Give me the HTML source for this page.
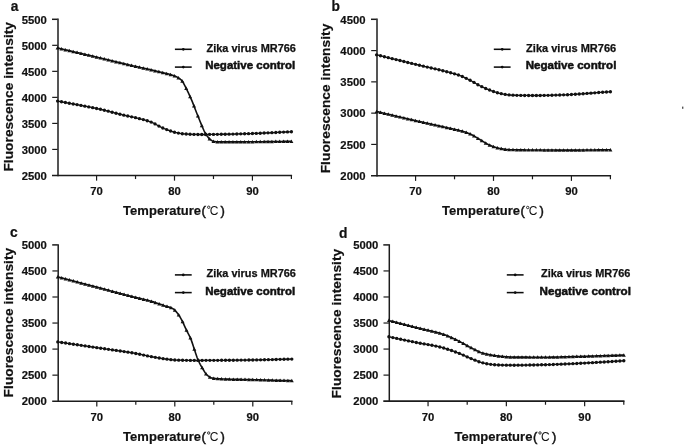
<!DOCTYPE html>
<html><head><meta charset="utf-8"><title>Melting curves</title>
<style>
html,body{margin:0;padding:0;background:#fff;}
body{width:685px;height:445px;overflow:hidden;font-family:"Liberation Sans",sans-serif;}
svg{display:block;will-change:transform}
.t{font:bold 11.3px "Liberation Sans",sans-serif;fill:#111;stroke:#111;stroke-width:0.2px}
.l{font:bold 13px "Liberation Sans",sans-serif;fill:#111;stroke:#111;stroke-width:0.2px}
.pr{font:normal 13px "Liberation Sans",sans-serif;fill:#111;stroke:#111;stroke-width:0.5px}
.yl{font:bold 13.7px "Liberation Sans",sans-serif;fill:#111;stroke:#111;stroke-width:0.2px}
.p{font:bold 13.8px "Liberation Sans",sans-serif;fill:#111;stroke:#111;stroke-width:0.2px}
.g1{font:bold 11px "Liberation Sans",sans-serif;fill:#111;stroke:#111;stroke-width:0.25px}
.g2{font:bold 10.2px "Liberation Sans",sans-serif;fill:#111;stroke:#111;stroke-width:0.45px}
</style></head><body>
<svg width="685" height="445" viewBox="0 0 685 445">
<rect width="685" height="445" fill="#fff"/>
<line x1="58.0" y1="18.6" x2="58.0" y2="176.14999999999998" stroke="#1c1c1c" stroke-width="1.5"/>
<line x1="52.0" y1="175.45" x2="292.09999999999997" y2="175.45" stroke="#1c1c1c" stroke-width="1.6"/>
<line x1="52.0" y1="19.3" x2="57.6" y2="19.3" stroke="#1c1c1c" stroke-width="1.5"/>
<text x="46.8" y="23.50" text-anchor="end" class="t">5500</text>
<line x1="52.2" y1="45.32" x2="57.6" y2="45.32" stroke="#1a1a1a" stroke-width="1.2"/>
<text x="46.8" y="49.52" text-anchor="end" class="t">5000</text>
<line x1="52.2" y1="71.35" x2="57.6" y2="71.35" stroke="#1a1a1a" stroke-width="1.2"/>
<text x="46.8" y="75.55" text-anchor="end" class="t">4500</text>
<line x1="52.2" y1="97.37" x2="57.6" y2="97.37" stroke="#1a1a1a" stroke-width="1.2"/>
<text x="46.8" y="101.57" text-anchor="end" class="t">4000</text>
<line x1="52.2" y1="123.40" x2="57.6" y2="123.40" stroke="#1a1a1a" stroke-width="1.2"/>
<text x="46.8" y="127.60" text-anchor="end" class="t">3500</text>
<line x1="52.2" y1="149.42" x2="57.6" y2="149.42" stroke="#1a1a1a" stroke-width="1.2"/>
<text x="46.8" y="153.62" text-anchor="end" class="t">3000</text>
<text x="46.8" y="179.65" text-anchor="end" class="t">2500</text>
<line x1="96.57" y1="175.45" x2="96.57" y2="180.64999999999998" stroke="#1a1a1a" stroke-width="1.2"/>
<text x="96.57" y="195.15" text-anchor="middle" class="t">70</text>
<line x1="135.53" y1="175.45" x2="135.53" y2="179.04999999999998" stroke="#1a1a1a" stroke-width="1.2"/>
<line x1="174.50" y1="175.45" x2="174.50" y2="180.64999999999998" stroke="#1a1a1a" stroke-width="1.2"/>
<text x="174.50" y="195.15" text-anchor="middle" class="t">80</text>
<line x1="213.47" y1="175.45" x2="213.47" y2="179.04999999999998" stroke="#1a1a1a" stroke-width="1.2"/>
<line x1="252.43" y1="175.45" x2="252.43" y2="180.64999999999998" stroke="#1a1a1a" stroke-width="1.2"/>
<text x="252.43" y="195.15" text-anchor="middle" class="t">90</text>
<line x1="291.40" y1="175.45" x2="291.40" y2="179.04999999999998" stroke="#1a1a1a" stroke-width="1.2"/>
<text x="123.1" y="215.14999999999998" class="l" textLength="78" lengthAdjust="spacing">Temperature</text>
<text x="201.6" y="214.95" class="pr">(</text>
<circle cx="208.7" cy="207.24999999999997" r="1.2" fill="none" stroke="#111" stroke-width="0.85"/>
<text x="209.79999999999998" y="214.95" style="font:normal 12px 'Liberation Sans',sans-serif" fill="#111">C</text>
<text x="220.6" y="214.95" class="pr">)</text>
<text transform="translate(12.5,96.8) rotate(-90)" text-anchor="middle" class="yl" textLength="149.6" lengthAdjust="spacing">Fluorescence intensity</text>
<text x="10.7" y="11.3" class="p">a</text>
<line x1="174.9" y1="49.3" x2="191.70000000000002" y2="49.3" stroke="#0c0c0c" stroke-width="1.55"/>
<circle cx="183.3" cy="49.3" r="1.35" fill="#0c0c0c"/>
<text x="206.5" y="51.6" class="g1" textLength="89.4" lengthAdjust="spacingAndGlyphs">Zika virus MR766</text>
<line x1="174.9" y1="67.1" x2="191.70000000000002" y2="67.1" stroke="#0c0c0c" stroke-width="1.55"/>
<circle cx="183.3" cy="67.1" r="1.35" fill="#0c0c0c"/>
<text x="205.2" y="69.4" class="g2" textLength="90.0" lengthAdjust="spacingAndGlyphs">Negative control</text>
<path d="M57.60,47.95 L58.38,48.14 L59.16,48.32 L59.95,48.50 L60.73,48.69 L61.51,48.87 L62.29,49.05 L63.07,49.24 L63.86,49.42 L64.64,49.60 L65.42,49.79 L66.20,49.97 L66.98,50.15 L67.77,50.34 L68.55,50.52 L69.33,50.70 L70.11,50.88 L70.89,51.07 L71.67,51.25 L72.46,51.43 L73.24,51.62 L74.02,51.80 L74.80,51.98 L75.58,52.17 L76.37,52.35 L77.15,52.53 L77.93,52.72 L78.71,52.90 L79.49,53.08 L80.28,53.26 L81.06,53.45 L81.84,53.63 L82.62,53.81 L83.40,54.00 L84.19,54.18 L84.97,54.37 L85.75,54.55 L86.53,54.73 L87.31,54.92 L88.10,55.10 L88.88,55.28 L89.66,55.47 L90.44,55.65 L91.22,55.84 L92.01,56.02 L92.79,56.21 L93.57,56.39 L94.35,56.57 L95.13,56.76 L95.92,56.94 L96.70,57.13 L97.48,57.31 L98.26,57.50 L99.04,57.68 L99.82,57.87 L100.61,58.06 L101.39,58.24 L102.17,58.43 L102.95,58.62 L103.73,58.81 L104.52,58.99 L105.30,59.18 L106.08,59.37 L106.86,59.56 L107.64,59.75 L108.43,59.94 L109.21,60.13 L109.99,60.32 L110.77,60.51 L111.55,60.69 L112.34,60.88 L113.12,61.07 L113.90,61.26 L114.68,61.45 L115.46,61.64 L116.25,61.83 L117.03,62.02 L117.81,62.21 L118.59,62.39 L119.37,62.58 L120.16,62.77 L120.94,62.96 L121.72,63.15 L122.50,63.33 L123.28,63.52 L124.06,63.71 L124.85,63.89 L125.63,64.08 L126.41,64.27 L127.19,64.45 L127.97,64.64 L128.76,64.82 L129.54,65.00 L130.32,65.19 L131.10,65.37 L131.88,65.55 L132.67,65.73 L133.45,65.91 L134.23,66.09 L135.01,66.27 L135.79,66.45 L136.58,66.63 L137.36,66.81 L138.14,66.98 L138.92,67.15 L139.70,67.33 L140.49,67.50 L141.27,67.67 L142.05,67.84 L142.83,68.01 L143.61,68.18 L144.40,68.35 L145.18,68.52 L145.96,68.69 L146.74,68.86 L147.52,69.04 L148.31,69.21 L149.09,69.39 L149.87,69.57 L150.65,69.75 L151.43,69.93 L152.21,70.12 L153.00,70.30 L153.78,70.48 L154.56,70.67 L155.34,70.86 L156.12,71.05 L156.91,71.24 L157.69,71.43 L158.47,71.62 L159.25,71.81 L160.03,72.01 L160.82,72.20 L161.60,72.39 L162.38,72.58 L163.16,72.76 L163.94,72.94 L164.73,73.12 L165.51,73.30 L166.29,73.49 L167.07,73.68 L167.85,73.87 L168.64,74.07 L169.42,74.28 L170.20,74.50 L170.98,74.72 L171.76,74.96 L172.55,75.20 L173.33,75.46 L174.11,75.74 L174.89,76.04 L175.67,76.38 L176.45,76.75 L177.24,77.16 L178.02,77.61 L178.80,78.10 L179.58,78.63 L180.36,79.24 L181.15,79.93 L181.93,80.72 L182.71,81.73 L183.49,83.03 L184.27,84.52 L185.06,86.10 L185.84,87.68 L186.62,89.22 L187.40,90.80 L188.18,92.43 L188.97,94.10 L189.75,95.80 L190.53,97.55 L191.31,99.33 L192.09,101.17 L192.88,103.09 L193.66,105.09 L194.44,107.12 L195.22,109.18 L196.00,111.23 L196.79,113.24 L197.57,115.19 L198.35,117.09 L199.13,119.01 L199.91,120.97 L200.69,122.92 L201.48,124.85 L202.26,126.73 L203.04,128.54 L203.82,130.26 L204.60,131.84 L205.39,133.29 L206.17,134.56 L206.95,135.75 L207.73,136.85 L208.51,137.85 L209.30,138.70 L210.08,139.36 L210.86,139.92 L211.64,140.45 L212.42,140.90 L213.21,141.25 L213.99,141.47 L214.77,141.57 L215.55,141.66 L216.33,141.73 L217.12,141.79 L217.90,141.84 L218.68,141.88 L219.46,141.90 L220.24,141.90 L221.03,141.90 L221.81,141.90 L222.59,141.90 L223.37,141.90 L224.15,141.90 L224.94,141.90 L225.72,141.89 L226.50,141.89 L227.28,141.89 L228.06,141.89 L228.84,141.89 L229.63,141.89 L230.41,141.88 L231.19,141.88 L231.97,141.88 L232.75,141.88 L233.54,141.87 L234.32,141.87 L235.10,141.87 L235.88,141.87 L236.66,141.86 L237.45,141.86 L238.23,141.86 L239.01,141.85 L239.79,141.85 L240.57,141.85 L241.36,141.84 L242.14,141.84 L242.92,141.83 L243.70,141.83 L244.48,141.83 L245.27,141.82 L246.05,141.82 L246.83,141.82 L247.61,141.81 L248.39,141.81 L249.18,141.80 L249.96,141.80 L250.74,141.80 L251.52,141.79 L252.30,141.79 L253.08,141.78 L253.87,141.78 L254.65,141.77 L255.43,141.76 L256.21,141.76 L256.99,141.75 L257.78,141.74 L258.56,141.73 L259.34,141.73 L260.12,141.72 L260.90,141.71 L261.69,141.70 L262.47,141.69 L263.25,141.68 L264.03,141.67 L264.81,141.67 L265.60,141.66 L266.38,141.65 L267.16,141.64 L267.94,141.63 L268.72,141.62 L269.51,141.60 L270.29,141.59 L271.07,141.58 L271.85,141.57 L272.63,141.56 L273.42,141.55 L274.20,141.54 L274.98,141.53 L275.76,141.52 L276.54,141.51 L277.33,141.50 L278.11,141.48 L278.89,141.47 L279.67,141.46 L280.45,141.45 L281.23,141.44 L282.02,141.43 L282.80,141.42 L283.58,141.41 L284.36,141.40 L285.14,141.39 L285.93,141.38 L286.71,141.36 L287.49,141.35 L288.27,141.34 L289.05,141.33 L289.84,141.32 L290.62,141.31 L291.40,141.30" fill="none" stroke="#111" stroke-width="1.6" stroke-linejoin="round"/>
<path d="M55.60,49.55 L59.60,49.55 L57.60,46.05Z" fill="#111"/>
<path d="M59.50,50.47 L63.50,50.47 L61.50,46.97Z" fill="#111"/>
<path d="M63.39,51.38 L67.39,51.38 L65.39,47.88Z" fill="#111"/>
<path d="M67.29,52.29 L71.29,52.29 L69.29,48.79Z" fill="#111"/>
<path d="M71.19,53.20 L75.19,53.20 L73.19,49.70Z" fill="#111"/>
<path d="M75.08,54.12 L79.08,54.12 L77.08,50.62Z" fill="#111"/>
<path d="M78.98,55.03 L82.98,55.03 L80.98,51.53Z" fill="#111"/>
<path d="M82.88,55.94 L86.88,55.94 L84.88,52.44Z" fill="#111"/>
<path d="M86.77,56.86 L90.77,56.86 L88.77,53.36Z" fill="#111"/>
<path d="M90.67,57.78 L94.67,57.78 L92.67,54.28Z" fill="#111"/>
<path d="M94.57,58.70 L98.57,58.70 L96.57,55.20Z" fill="#111"/>
<path d="M98.46,59.62 L102.46,59.62 L100.46,56.12Z" fill="#111"/>
<path d="M102.36,60.56 L106.36,60.56 L104.36,57.06Z" fill="#111"/>
<path d="M106.26,61.50 L110.26,61.50 L108.26,58.00Z" fill="#111"/>
<path d="M110.15,62.44 L114.15,62.44 L112.15,58.94Z" fill="#111"/>
<path d="M114.05,63.38 L118.05,63.38 L116.05,59.88Z" fill="#111"/>
<path d="M117.95,64.32 L121.95,64.32 L119.95,60.82Z" fill="#111"/>
<path d="M121.84,65.25 L125.84,65.25 L123.84,61.75Z" fill="#111"/>
<path d="M125.74,66.18 L129.74,66.18 L127.74,62.68Z" fill="#111"/>
<path d="M129.64,67.09 L133.64,67.09 L131.64,63.59Z" fill="#111"/>
<path d="M133.53,67.99 L137.53,67.99 L135.53,64.49Z" fill="#111"/>
<path d="M137.43,68.87 L141.43,68.87 L139.43,65.37Z" fill="#111"/>
<path d="M141.33,69.72 L145.33,69.72 L143.33,66.22Z" fill="#111"/>
<path d="M145.22,70.57 L149.22,70.57 L147.22,67.07Z" fill="#111"/>
<path d="M149.12,71.46 L153.12,71.46 L151.12,67.96Z" fill="#111"/>
<path d="M153.02,72.38 L157.02,72.38 L155.02,68.88Z" fill="#111"/>
<path d="M156.91,73.33 L160.91,73.33 L158.91,69.83Z" fill="#111"/>
<path d="M160.81,74.28 L164.81,74.28 L162.81,70.78Z" fill="#111"/>
<path d="M164.71,75.19 L168.71,75.19 L166.71,71.69Z" fill="#111"/>
<path d="M168.60,76.21 L172.60,76.21 L170.60,72.71Z" fill="#111"/>
<path d="M172.50,77.49 L176.50,77.49 L174.50,73.99Z" fill="#111"/>
<path d="M176.40,79.44 L180.40,79.44 L178.40,75.94Z" fill="#111"/>
<path d="M180.29,82.75 L184.29,82.75 L182.29,79.25Z" fill="#111"/>
<path d="M184.19,89.97 L188.19,89.97 L186.19,86.47Z" fill="#111"/>
<path d="M188.09,98.16 L192.09,98.16 L190.09,94.66Z" fill="#111"/>
<path d="M191.98,107.53 L195.98,107.53 L193.98,104.03Z" fill="#111"/>
<path d="M195.88,117.55 L199.88,117.55 L197.88,114.05Z" fill="#111"/>
<path d="M199.78,127.18 L203.78,127.18 L201.78,123.68Z" fill="#111"/>
<path d="M203.67,135.37 L207.67,135.37 L205.67,131.87Z" fill="#111"/>
<path d="M207.57,140.55 L211.57,140.55 L209.57,137.05Z" fill="#111"/>
<path d="M211.47,142.94 L215.47,142.94 L213.47,139.44Z" fill="#111"/>
<path d="M215.36,143.41 L219.36,143.41 L217.36,139.91Z" fill="#111"/>
<path d="M219.26,143.50 L223.26,143.50 L221.26,140.00Z" fill="#111"/>
<path d="M223.16,143.50 L227.16,143.50 L225.16,140.00Z" fill="#111"/>
<path d="M227.05,143.49 L231.05,143.49 L229.05,139.99Z" fill="#111"/>
<path d="M230.95,143.48 L234.95,143.48 L232.95,139.98Z" fill="#111"/>
<path d="M234.85,143.46 L238.85,143.46 L236.85,139.96Z" fill="#111"/>
<path d="M238.74,143.45 L242.74,143.45 L240.74,139.95Z" fill="#111"/>
<path d="M242.64,143.43 L246.64,143.43 L244.64,139.93Z" fill="#111"/>
<path d="M246.54,143.41 L250.54,143.41 L248.54,139.91Z" fill="#111"/>
<path d="M250.43,143.39 L254.43,143.39 L252.43,139.89Z" fill="#111"/>
<path d="M254.33,143.36 L258.33,143.36 L256.33,139.86Z" fill="#111"/>
<path d="M258.23,143.32 L262.23,143.32 L260.23,139.82Z" fill="#111"/>
<path d="M262.12,143.27 L266.12,143.27 L264.12,139.77Z" fill="#111"/>
<path d="M266.02,143.22 L270.02,143.22 L268.02,139.72Z" fill="#111"/>
<path d="M269.92,143.17 L273.92,143.17 L271.92,139.67Z" fill="#111"/>
<path d="M273.81,143.12 L277.81,143.12 L275.81,139.62Z" fill="#111"/>
<path d="M277.71,143.06 L281.71,143.06 L279.71,139.56Z" fill="#111"/>
<path d="M281.61,143.01 L285.61,143.01 L283.61,139.51Z" fill="#111"/>
<path d="M285.50,142.95 L289.50,142.95 L287.50,139.45Z" fill="#111"/>
<path d="M289.40,142.90 L293.40,142.90 L291.40,139.40Z" fill="#111"/>
<path d="M57.60,101.06 L58.38,101.21 L59.16,101.36 L59.95,101.51 L60.73,101.66 L61.51,101.80 L62.29,101.95 L63.07,102.10 L63.86,102.24 L64.64,102.39 L65.42,102.53 L66.20,102.68 L66.98,102.82 L67.77,102.96 L68.55,103.11 L69.33,103.25 L70.11,103.39 L70.89,103.54 L71.67,103.68 L72.46,103.82 L73.24,103.96 L74.02,104.11 L74.80,104.25 L75.58,104.39 L76.37,104.54 L77.15,104.68 L77.93,104.83 L78.71,104.97 L79.49,105.11 L80.28,105.26 L81.06,105.41 L81.84,105.55 L82.62,105.70 L83.40,105.85 L84.19,105.99 L84.97,106.14 L85.75,106.29 L86.53,106.44 L87.31,106.59 L88.10,106.75 L88.88,106.90 L89.66,107.05 L90.44,107.21 L91.22,107.36 L92.01,107.52 L92.79,107.68 L93.57,107.84 L94.35,108.00 L95.13,108.16 L95.92,108.32 L96.70,108.49 L97.48,108.65 L98.26,108.82 L99.04,108.99 L99.82,109.16 L100.61,109.33 L101.39,109.51 L102.17,109.69 L102.95,109.87 L103.73,110.06 L104.52,110.25 L105.30,110.44 L106.08,110.64 L106.86,110.84 L107.64,111.03 L108.43,111.24 L109.21,111.44 L109.99,111.64 L110.77,111.84 L111.55,112.05 L112.34,112.26 L113.12,112.46 L113.90,112.67 L114.68,112.87 L115.46,113.08 L116.25,113.28 L117.03,113.49 L117.81,113.69 L118.59,113.89 L119.37,114.09 L120.16,114.29 L120.94,114.48 L121.72,114.68 L122.50,114.87 L123.28,115.05 L124.06,115.24 L124.85,115.42 L125.63,115.60 L126.41,115.77 L127.19,115.94 L127.97,116.10 L128.76,116.26 L129.54,116.42 L130.32,116.58 L131.10,116.74 L131.88,116.90 L132.67,117.06 L133.45,117.22 L134.23,117.39 L135.01,117.57 L135.79,117.75 L136.58,117.94 L137.36,118.13 L138.14,118.31 L138.92,118.50 L139.70,118.69 L140.49,118.89 L141.27,119.08 L142.05,119.28 L142.83,119.49 L143.61,119.70 L144.40,119.91 L145.18,120.13 L145.96,120.36 L146.74,120.59 L147.52,120.83 L148.31,121.08 L149.09,121.34 L149.87,121.61 L150.65,121.89 L151.43,122.20 L152.21,122.54 L153.00,122.90 L153.78,123.28 L154.56,123.68 L155.34,124.10 L156.12,124.52 L156.91,124.95 L157.69,125.39 L158.47,125.82 L159.25,126.25 L160.03,126.66 L160.82,127.07 L161.60,127.46 L162.38,127.83 L163.16,128.17 L163.94,128.50 L164.73,128.82 L165.51,129.14 L166.29,129.45 L167.07,129.75 L167.85,130.04 L168.64,130.33 L169.42,130.60 L170.20,130.87 L170.98,131.13 L171.76,131.40 L172.55,131.66 L173.33,131.90 L174.11,132.13 L174.89,132.34 L175.67,132.52 L176.45,132.68 L177.24,132.84 L178.02,132.99 L178.80,133.14 L179.58,133.29 L180.36,133.42 L181.15,133.55 L181.93,133.66 L182.71,133.76 L183.49,133.85 L184.27,133.93 L185.06,133.98 L185.84,134.03 L186.62,134.08 L187.40,134.12 L188.18,134.16 L188.97,134.20 L189.75,134.24 L190.53,134.27 L191.31,134.30 L192.09,134.34 L192.88,134.37 L193.66,134.39 L194.44,134.42 L195.22,134.44 L196.00,134.46 L196.79,134.47 L197.57,134.48 L198.35,134.49 L199.13,134.50 L199.91,134.50 L200.69,134.50 L201.48,134.50 L202.26,134.50 L203.04,134.49 L203.82,134.49 L204.60,134.48 L205.39,134.48 L206.17,134.47 L206.95,134.47 L207.73,134.46 L208.51,134.45 L209.30,134.44 L210.08,134.43 L210.86,134.42 L211.64,134.41 L212.42,134.40 L213.21,134.39 L213.99,134.38 L214.77,134.37 L215.55,134.36 L216.33,134.35 L217.12,134.34 L217.90,134.33 L218.68,134.32 L219.46,134.31 L220.24,134.30 L221.03,134.29 L221.81,134.27 L222.59,134.26 L223.37,134.25 L224.15,134.24 L224.94,134.22 L225.72,134.21 L226.50,134.19 L227.28,134.18 L228.06,134.16 L228.84,134.15 L229.63,134.13 L230.41,134.12 L231.19,134.10 L231.97,134.08 L232.75,134.06 L233.54,134.05 L234.32,134.03 L235.10,134.01 L235.88,133.99 L236.66,133.97 L237.45,133.95 L238.23,133.93 L239.01,133.91 L239.79,133.89 L240.57,133.87 L241.36,133.85 L242.14,133.83 L242.92,133.81 L243.70,133.78 L244.48,133.76 L245.27,133.74 L246.05,133.72 L246.83,133.69 L247.61,133.67 L248.39,133.65 L249.18,133.62 L249.96,133.60 L250.74,133.58 L251.52,133.55 L252.30,133.53 L253.08,133.50 L253.87,133.47 L254.65,133.44 L255.43,133.42 L256.21,133.39 L256.99,133.36 L257.78,133.32 L258.56,133.29 L259.34,133.26 L260.12,133.23 L260.90,133.19 L261.69,133.16 L262.47,133.13 L263.25,133.09 L264.03,133.06 L264.81,133.02 L265.60,132.98 L266.38,132.95 L267.16,132.91 L267.94,132.87 L268.72,132.84 L269.51,132.80 L270.29,132.76 L271.07,132.72 L271.85,132.68 L272.63,132.64 L273.42,132.60 L274.20,132.57 L274.98,132.53 L275.76,132.49 L276.54,132.45 L277.33,132.41 L278.11,132.37 L278.89,132.33 L279.67,132.29 L280.45,132.25 L281.23,132.21 L282.02,132.17 L282.80,132.13 L283.58,132.09 L284.36,132.05 L285.14,132.02 L285.93,131.98 L286.71,131.94 L287.49,131.90 L288.27,131.86 L289.05,131.83 L289.84,131.79 L290.62,131.75 L291.40,131.72" fill="none" stroke="#111" stroke-width="1.3" stroke-linejoin="round"/>
<circle cx="57.60" cy="101.06" r="1.68" fill="#111"/>
<circle cx="61.50" cy="101.80" r="1.68" fill="#111"/>
<circle cx="65.39" cy="102.53" r="1.68" fill="#111"/>
<circle cx="69.29" cy="103.24" r="1.68" fill="#111"/>
<circle cx="73.19" cy="103.95" r="1.68" fill="#111"/>
<circle cx="77.08" cy="104.67" r="1.68" fill="#111"/>
<circle cx="80.98" cy="105.39" r="1.68" fill="#111"/>
<circle cx="84.88" cy="106.13" r="1.68" fill="#111"/>
<circle cx="88.77" cy="106.88" r="1.68" fill="#111"/>
<circle cx="92.67" cy="107.65" r="1.68" fill="#111"/>
<circle cx="96.57" cy="108.46" r="1.68" fill="#111"/>
<circle cx="100.46" cy="109.30" r="1.68" fill="#111"/>
<circle cx="104.36" cy="110.21" r="1.68" fill="#111"/>
<circle cx="108.26" cy="111.19" r="1.68" fill="#111"/>
<circle cx="112.15" cy="112.21" r="1.68" fill="#111"/>
<circle cx="116.05" cy="113.23" r="1.68" fill="#111"/>
<circle cx="119.95" cy="114.23" r="1.68" fill="#111"/>
<circle cx="123.84" cy="115.19" r="1.68" fill="#111"/>
<circle cx="127.74" cy="116.05" r="1.68" fill="#111"/>
<circle cx="131.64" cy="116.84" r="1.68" fill="#111"/>
<circle cx="135.53" cy="117.69" r="1.68" fill="#111"/>
<circle cx="139.43" cy="118.63" r="1.68" fill="#111"/>
<circle cx="143.33" cy="119.62" r="1.68" fill="#111"/>
<circle cx="147.22" cy="120.74" r="1.68" fill="#111"/>
<circle cx="151.12" cy="122.07" r="1.68" fill="#111"/>
<circle cx="155.02" cy="123.92" r="1.68" fill="#111"/>
<circle cx="158.91" cy="126.06" r="1.68" fill="#111"/>
<circle cx="162.81" cy="128.02" r="1.68" fill="#111"/>
<circle cx="166.71" cy="129.61" r="1.68" fill="#111"/>
<circle cx="170.60" cy="131.01" r="1.68" fill="#111"/>
<circle cx="174.50" cy="132.24" r="1.68" fill="#111"/>
<circle cx="178.40" cy="133.07" r="1.68" fill="#111"/>
<circle cx="182.29" cy="133.71" r="1.68" fill="#111"/>
<circle cx="186.19" cy="134.05" r="1.68" fill="#111"/>
<circle cx="190.09" cy="134.25" r="1.68" fill="#111"/>
<circle cx="193.98" cy="134.40" r="1.68" fill="#111"/>
<circle cx="197.88" cy="134.49" r="1.68" fill="#111"/>
<circle cx="201.78" cy="134.50" r="1.68" fill="#111"/>
<circle cx="205.67" cy="134.48" r="1.68" fill="#111"/>
<circle cx="209.57" cy="134.44" r="1.68" fill="#111"/>
<circle cx="213.47" cy="134.39" r="1.68" fill="#111"/>
<circle cx="217.36" cy="134.34" r="1.68" fill="#111"/>
<circle cx="221.26" cy="134.28" r="1.68" fill="#111"/>
<circle cx="225.16" cy="134.22" r="1.68" fill="#111"/>
<circle cx="229.05" cy="134.14" r="1.68" fill="#111"/>
<circle cx="232.95" cy="134.06" r="1.68" fill="#111"/>
<circle cx="236.85" cy="133.97" r="1.68" fill="#111"/>
<circle cx="240.74" cy="133.87" r="1.68" fill="#111"/>
<circle cx="244.64" cy="133.76" r="1.68" fill="#111"/>
<circle cx="248.54" cy="133.64" r="1.68" fill="#111"/>
<circle cx="252.43" cy="133.52" r="1.68" fill="#111"/>
<circle cx="256.33" cy="133.38" r="1.68" fill="#111"/>
<circle cx="260.23" cy="133.22" r="1.68" fill="#111"/>
<circle cx="264.12" cy="133.05" r="1.68" fill="#111"/>
<circle cx="268.02" cy="132.87" r="1.68" fill="#111"/>
<circle cx="271.92" cy="132.68" r="1.68" fill="#111"/>
<circle cx="275.81" cy="132.48" r="1.68" fill="#111"/>
<circle cx="279.71" cy="132.29" r="1.68" fill="#111"/>
<circle cx="283.61" cy="132.09" r="1.68" fill="#111"/>
<circle cx="287.50" cy="131.90" r="1.68" fill="#111"/>
<circle cx="291.40" cy="131.72" r="1.68" fill="#111"/>
<line x1="377.0" y1="18.6" x2="377.0" y2="176.39999999999998" stroke="#1c1c1c" stroke-width="1.5"/>
<line x1="371.0" y1="175.7" x2="611.1" y2="175.7" stroke="#1c1c1c" stroke-width="1.6"/>
<line x1="371.0" y1="19.3" x2="376.6" y2="19.3" stroke="#1c1c1c" stroke-width="1.5"/>
<text x="365.5" y="23.50" text-anchor="end" class="t">4500</text>
<line x1="371.20000000000005" y1="50.58" x2="376.6" y2="50.58" stroke="#1a1a1a" stroke-width="1.2"/>
<text x="365.5" y="54.78" text-anchor="end" class="t">4000</text>
<line x1="371.20000000000005" y1="81.86" x2="376.6" y2="81.86" stroke="#1a1a1a" stroke-width="1.2"/>
<text x="365.5" y="86.06" text-anchor="end" class="t">3500</text>
<line x1="371.20000000000005" y1="113.14" x2="376.6" y2="113.14" stroke="#1a1a1a" stroke-width="1.2"/>
<text x="365.5" y="117.34" text-anchor="end" class="t">3000</text>
<line x1="371.20000000000005" y1="144.42" x2="376.6" y2="144.42" stroke="#1a1a1a" stroke-width="1.2"/>
<text x="365.5" y="148.62" text-anchor="end" class="t">2500</text>
<text x="365.5" y="179.90" text-anchor="end" class="t">2000</text>
<line x1="415.57" y1="175.7" x2="415.57" y2="180.89999999999998" stroke="#1a1a1a" stroke-width="1.2"/>
<text x="415.57" y="195.40" text-anchor="middle" class="t">70</text>
<line x1="454.53" y1="175.7" x2="454.53" y2="179.29999999999998" stroke="#1a1a1a" stroke-width="1.2"/>
<line x1="493.50" y1="175.7" x2="493.50" y2="180.89999999999998" stroke="#1a1a1a" stroke-width="1.2"/>
<text x="493.50" y="195.40" text-anchor="middle" class="t">80</text>
<line x1="532.47" y1="175.7" x2="532.47" y2="179.29999999999998" stroke="#1a1a1a" stroke-width="1.2"/>
<line x1="571.43" y1="175.7" x2="571.43" y2="180.89999999999998" stroke="#1a1a1a" stroke-width="1.2"/>
<text x="571.43" y="195.40" text-anchor="middle" class="t">90</text>
<line x1="610.40" y1="175.7" x2="610.40" y2="179.29999999999998" stroke="#1a1a1a" stroke-width="1.2"/>
<text x="442.1" y="215.39999999999998" class="l" textLength="78" lengthAdjust="spacing">Temperature</text>
<text x="520.6" y="215.2" class="pr">(</text>
<circle cx="527.6999999999999" cy="207.49999999999997" r="1.2" fill="none" stroke="#111" stroke-width="0.85"/>
<text x="528.8" y="215.2" style="font:normal 12px 'Liberation Sans',sans-serif" fill="#111">C</text>
<text x="539.6" y="215.2" class="pr">)</text>
<text transform="translate(330.3,98.5) rotate(-90)" text-anchor="middle" class="yl" textLength="149.6" lengthAdjust="spacing">Fluorescence intensity</text>
<text x="331.6" y="10.9" class="p">b</text>
<line x1="493.8" y1="49.3" x2="510.6" y2="49.3" stroke="#0c0c0c" stroke-width="1.55"/>
<circle cx="502.2" cy="49.3" r="1.35" fill="#0c0c0c"/>
<text x="526.1" y="51.6" class="g1" textLength="90.1" lengthAdjust="spacingAndGlyphs">Zika virus MR766</text>
<line x1="493.8" y1="67.1" x2="510.6" y2="67.1" stroke="#0c0c0c" stroke-width="1.55"/>
<circle cx="502.2" cy="67.1" r="1.35" fill="#0c0c0c"/>
<text x="525.7" y="69.4" class="g2" textLength="90.7" lengthAdjust="spacingAndGlyphs">Negative control</text>
<path d="M376.60,54.83 L377.38,55.02 L378.16,55.21 L378.95,55.40 L379.73,55.59 L380.51,55.78 L381.29,55.97 L382.07,56.16 L382.86,56.36 L383.64,56.55 L384.42,56.74 L385.20,56.93 L385.98,57.12 L386.77,57.31 L387.55,57.50 L388.33,57.69 L389.11,57.89 L389.89,58.08 L390.67,58.27 L391.46,58.46 L392.24,58.65 L393.02,58.84 L393.80,59.03 L394.58,59.23 L395.37,59.42 L396.15,59.61 L396.93,59.80 L397.71,59.99 L398.49,60.18 L399.28,60.37 L400.06,60.56 L400.84,60.76 L401.62,60.95 L402.40,61.14 L403.19,61.33 L403.97,61.52 L404.75,61.71 L405.53,61.90 L406.31,62.09 L407.10,62.28 L407.88,62.47 L408.66,62.66 L409.44,62.85 L410.22,63.04 L411.01,63.23 L411.79,63.42 L412.57,63.61 L413.35,63.80 L414.13,63.99 L414.92,64.18 L415.70,64.37 L416.48,64.56 L417.26,64.74 L418.04,64.93 L418.82,65.11 L419.61,65.30 L420.39,65.48 L421.17,65.66 L421.95,65.84 L422.73,66.02 L423.52,66.20 L424.30,66.38 L425.08,66.56 L425.86,66.74 L426.64,66.92 L427.43,67.10 L428.21,67.28 L428.99,67.46 L429.77,67.64 L430.55,67.82 L431.34,68.00 L432.12,68.18 L432.90,68.36 L433.68,68.54 L434.46,68.72 L435.25,68.91 L436.03,69.09 L436.81,69.28 L437.59,69.46 L438.37,69.65 L439.16,69.84 L439.94,70.02 L440.72,70.21 L441.50,70.41 L442.28,70.60 L443.06,70.79 L443.85,70.99 L444.63,71.19 L445.41,71.39 L446.19,71.59 L446.97,71.79 L447.76,72.00 L448.54,72.21 L449.32,72.42 L450.10,72.63 L450.88,72.84 L451.67,73.05 L452.45,73.27 L453.23,73.48 L454.01,73.70 L454.79,73.93 L455.58,74.16 L456.36,74.39 L457.14,74.63 L457.92,74.88 L458.70,75.15 L459.49,75.42 L460.27,75.70 L461.05,76.00 L461.83,76.31 L462.61,76.64 L463.40,76.98 L464.18,77.34 L464.96,77.70 L465.74,78.08 L466.52,78.46 L467.31,78.84 L468.09,79.23 L468.87,79.63 L469.65,80.02 L470.43,80.42 L471.21,80.84 L472.00,81.27 L472.78,81.71 L473.56,82.17 L474.34,82.63 L475.12,83.09 L475.91,83.55 L476.69,84.00 L477.47,84.45 L478.25,84.89 L479.03,85.31 L479.82,85.71 L480.60,86.09 L481.38,86.47 L482.16,86.85 L482.94,87.22 L483.73,87.58 L484.51,87.93 L485.29,88.28 L486.07,88.62 L486.85,88.95 L487.64,89.28 L488.42,89.59 L489.20,89.90 L489.98,90.19 L490.76,90.48 L491.55,90.77 L492.33,91.06 L493.11,91.34 L493.89,91.62 L494.67,91.89 L495.45,92.15 L496.24,92.40 L497.02,92.63 L497.80,92.86 L498.58,93.07 L499.36,93.26 L500.15,93.43 L500.93,93.60 L501.71,93.76 L502.49,93.92 L503.27,94.07 L504.06,94.22 L504.84,94.36 L505.62,94.49 L506.40,94.61 L507.18,94.72 L507.97,94.82 L508.75,94.90 L509.53,94.97 L510.31,95.02 L511.09,95.07 L511.88,95.11 L512.66,95.16 L513.44,95.20 L514.22,95.23 L515.00,95.27 L515.79,95.30 L516.57,95.32 L517.35,95.35 L518.13,95.37 L518.91,95.38 L519.69,95.40 L520.48,95.41 L521.26,95.41 L522.04,95.42 L522.82,95.43 L523.60,95.44 L524.39,95.44 L525.17,95.45 L525.95,95.46 L526.73,95.46 L527.51,95.47 L528.30,95.47 L529.08,95.48 L529.86,95.48 L530.64,95.49 L531.42,95.49 L532.21,95.49 L532.99,95.50 L533.77,95.50 L534.55,95.50 L535.33,95.50 L536.12,95.50 L536.90,95.50 L537.68,95.50 L538.46,95.49 L539.24,95.49 L540.03,95.48 L540.81,95.47 L541.59,95.46 L542.37,95.45 L543.15,95.44 L543.94,95.42 L544.72,95.41 L545.50,95.39 L546.28,95.38 L547.06,95.36 L547.84,95.34 L548.63,95.32 L549.41,95.30 L550.19,95.28 L550.97,95.26 L551.75,95.24 L552.54,95.22 L553.32,95.20 L554.10,95.18 L554.88,95.15 L555.66,95.13 L556.45,95.11 L557.23,95.08 L558.01,95.06 L558.79,95.04 L559.57,95.01 L560.36,94.99 L561.14,94.96 L561.92,94.94 L562.70,94.91 L563.48,94.88 L564.27,94.85 L565.05,94.82 L565.83,94.78 L566.61,94.75 L567.39,94.71 L568.18,94.67 L568.96,94.63 L569.74,94.59 L570.52,94.55 L571.30,94.50 L572.08,94.46 L572.87,94.41 L573.65,94.37 L574.43,94.32 L575.21,94.27 L575.99,94.22 L576.78,94.17 L577.56,94.12 L578.34,94.06 L579.12,94.01 L579.90,93.96 L580.69,93.90 L581.47,93.85 L582.25,93.79 L583.03,93.73 L583.81,93.68 L584.60,93.62 L585.38,93.56 L586.16,93.50 L586.94,93.44 L587.72,93.39 L588.51,93.33 L589.29,93.27 L590.07,93.21 L590.85,93.15 L591.63,93.09 L592.42,93.02 L593.20,92.96 L593.98,92.90 L594.76,92.84 L595.54,92.78 L596.33,92.72 L597.11,92.66 L597.89,92.60 L598.67,92.54 L599.45,92.48 L600.23,92.42 L601.02,92.37 L601.80,92.31 L602.58,92.25 L603.36,92.19 L604.14,92.13 L604.93,92.08 L605.71,92.02 L606.49,91.97 L607.27,91.91 L608.05,91.86 L608.84,91.80 L609.62,91.75 L610.40,91.70" fill="none" stroke="#111" stroke-width="1.3" stroke-linejoin="round"/>
<circle cx="376.60" cy="54.83" r="1.68" fill="#111"/>
<circle cx="380.50" cy="55.78" r="1.68" fill="#111"/>
<circle cx="384.39" cy="56.73" r="1.68" fill="#111"/>
<circle cx="388.29" cy="57.69" r="1.68" fill="#111"/>
<circle cx="392.19" cy="58.64" r="1.68" fill="#111"/>
<circle cx="396.08" cy="59.59" r="1.68" fill="#111"/>
<circle cx="399.98" cy="60.55" r="1.68" fill="#111"/>
<circle cx="403.88" cy="61.50" r="1.68" fill="#111"/>
<circle cx="407.77" cy="62.45" r="1.68" fill="#111"/>
<circle cx="411.67" cy="63.39" r="1.68" fill="#111"/>
<circle cx="415.57" cy="64.34" r="1.68" fill="#111"/>
<circle cx="419.46" cy="65.26" r="1.68" fill="#111"/>
<circle cx="423.36" cy="66.17" r="1.68" fill="#111"/>
<circle cx="427.26" cy="67.06" r="1.68" fill="#111"/>
<circle cx="431.15" cy="67.96" r="1.68" fill="#111"/>
<circle cx="435.05" cy="68.86" r="1.68" fill="#111"/>
<circle cx="438.95" cy="69.79" r="1.68" fill="#111"/>
<circle cx="442.84" cy="70.74" r="1.68" fill="#111"/>
<circle cx="446.74" cy="71.73" r="1.68" fill="#111"/>
<circle cx="450.64" cy="72.77" r="1.68" fill="#111"/>
<circle cx="454.53" cy="73.85" r="1.68" fill="#111"/>
<circle cx="458.43" cy="75.05" r="1.68" fill="#111"/>
<circle cx="462.33" cy="76.52" r="1.68" fill="#111"/>
<circle cx="466.22" cy="78.31" r="1.68" fill="#111"/>
<circle cx="470.12" cy="80.26" r="1.68" fill="#111"/>
<circle cx="474.02" cy="82.44" r="1.68" fill="#111"/>
<circle cx="477.91" cy="84.70" r="1.68" fill="#111"/>
<circle cx="481.81" cy="86.68" r="1.68" fill="#111"/>
<circle cx="485.71" cy="88.46" r="1.68" fill="#111"/>
<circle cx="489.60" cy="90.05" r="1.68" fill="#111"/>
<circle cx="493.50" cy="91.48" r="1.68" fill="#111"/>
<circle cx="497.40" cy="92.74" r="1.68" fill="#111"/>
<circle cx="501.29" cy="93.67" r="1.68" fill="#111"/>
<circle cx="505.19" cy="94.42" r="1.68" fill="#111"/>
<circle cx="509.09" cy="94.93" r="1.68" fill="#111"/>
<circle cx="512.98" cy="95.17" r="1.68" fill="#111"/>
<circle cx="516.88" cy="95.33" r="1.68" fill="#111"/>
<circle cx="520.78" cy="95.41" r="1.68" fill="#111"/>
<circle cx="524.67" cy="95.45" r="1.68" fill="#111"/>
<circle cx="528.57" cy="95.48" r="1.68" fill="#111"/>
<circle cx="532.47" cy="95.49" r="1.68" fill="#111"/>
<circle cx="536.36" cy="95.50" r="1.68" fill="#111"/>
<circle cx="540.26" cy="95.48" r="1.68" fill="#111"/>
<circle cx="544.16" cy="95.42" r="1.68" fill="#111"/>
<circle cx="548.05" cy="95.34" r="1.68" fill="#111"/>
<circle cx="551.95" cy="95.24" r="1.68" fill="#111"/>
<circle cx="555.85" cy="95.12" r="1.68" fill="#111"/>
<circle cx="559.74" cy="95.01" r="1.68" fill="#111"/>
<circle cx="563.64" cy="94.87" r="1.68" fill="#111"/>
<circle cx="567.54" cy="94.70" r="1.68" fill="#111"/>
<circle cx="571.43" cy="94.50" r="1.68" fill="#111"/>
<circle cx="575.33" cy="94.26" r="1.68" fill="#111"/>
<circle cx="579.23" cy="94.00" r="1.68" fill="#111"/>
<circle cx="583.12" cy="93.73" r="1.68" fill="#111"/>
<circle cx="587.02" cy="93.44" r="1.68" fill="#111"/>
<circle cx="590.92" cy="93.14" r="1.68" fill="#111"/>
<circle cx="594.81" cy="92.84" r="1.68" fill="#111"/>
<circle cx="598.71" cy="92.54" r="1.68" fill="#111"/>
<circle cx="602.61" cy="92.25" r="1.68" fill="#111"/>
<circle cx="606.50" cy="91.97" r="1.68" fill="#111"/>
<circle cx="610.40" cy="91.70" r="1.68" fill="#111"/>
<path d="M376.60,111.53 L377.38,111.71 L378.16,111.90 L378.95,112.08 L379.73,112.26 L380.51,112.44 L381.29,112.63 L382.07,112.81 L382.86,113.00 L383.64,113.18 L384.42,113.36 L385.20,113.55 L385.98,113.73 L386.77,113.92 L387.55,114.10 L388.33,114.28 L389.11,114.47 L389.89,114.65 L390.67,114.84 L391.46,115.02 L392.24,115.20 L393.02,115.39 L393.80,115.57 L394.58,115.76 L395.37,115.94 L396.15,116.12 L396.93,116.31 L397.71,116.49 L398.49,116.67 L399.28,116.86 L400.06,117.04 L400.84,117.22 L401.62,117.41 L402.40,117.59 L403.19,117.77 L403.97,117.95 L404.75,118.14 L405.53,118.32 L406.31,118.50 L407.10,118.68 L407.88,118.86 L408.66,119.04 L409.44,119.22 L410.22,119.40 L411.01,119.58 L411.79,119.76 L412.57,119.94 L413.35,120.12 L414.13,120.30 L414.92,120.48 L415.70,120.66 L416.48,120.84 L417.26,121.01 L418.04,121.19 L418.82,121.37 L419.61,121.54 L420.39,121.72 L421.17,121.89 L421.95,122.07 L422.73,122.24 L423.52,122.42 L424.30,122.59 L425.08,122.76 L425.86,122.94 L426.64,123.11 L427.43,123.28 L428.21,123.46 L428.99,123.63 L429.77,123.80 L430.55,123.98 L431.34,124.15 L432.12,124.32 L432.90,124.49 L433.68,124.66 L434.46,124.84 L435.25,125.01 L436.03,125.18 L436.81,125.35 L437.59,125.53 L438.37,125.70 L439.16,125.87 L439.94,126.05 L440.72,126.22 L441.50,126.39 L442.28,126.57 L443.06,126.74 L443.85,126.92 L444.63,127.09 L445.41,127.27 L446.19,127.44 L446.97,127.62 L447.76,127.79 L448.54,127.97 L449.32,128.15 L450.10,128.32 L450.88,128.50 L451.67,128.67 L452.45,128.84 L453.23,129.01 L454.01,129.18 L454.79,129.35 L455.58,129.52 L456.36,129.70 L457.14,129.88 L457.92,130.07 L458.70,130.26 L459.49,130.46 L460.27,130.67 L461.05,130.89 L461.83,131.11 L462.61,131.33 L463.40,131.57 L464.18,131.81 L464.96,132.05 L465.74,132.31 L466.52,132.58 L467.31,132.85 L468.09,133.14 L468.87,133.44 L469.65,133.76 L470.43,134.09 L471.21,134.45 L472.00,134.84 L472.78,135.26 L473.56,135.71 L474.34,136.16 L475.12,136.64 L475.91,137.12 L476.69,137.60 L477.47,138.09 L478.25,138.57 L479.03,139.04 L479.82,139.49 L480.60,139.95 L481.38,140.41 L482.16,140.89 L482.94,141.38 L483.73,141.87 L484.51,142.36 L485.29,142.84 L486.07,143.30 L486.85,143.76 L487.64,144.18 L488.42,144.59 L489.20,144.96 L489.98,145.29 L490.76,145.60 L491.55,145.91 L492.33,146.20 L493.11,146.48 L493.89,146.76 L494.67,147.02 L495.45,147.27 L496.24,147.50 L497.02,147.72 L497.80,147.92 L498.58,148.11 L499.36,148.28 L500.15,148.43 L500.93,148.57 L501.71,148.71 L502.49,148.85 L503.27,148.98 L504.06,149.11 L504.84,149.23 L505.62,149.33 L506.40,149.43 L507.18,149.52 L507.97,149.59 L508.75,149.65 L509.53,149.69 L510.31,149.71 L511.09,149.73 L511.88,149.74 L512.66,149.76 L513.44,149.78 L514.22,149.79 L515.00,149.80 L515.79,149.82 L516.57,149.83 L517.35,149.84 L518.13,149.85 L518.91,149.87 L519.69,149.88 L520.48,149.89 L521.26,149.89 L522.04,149.90 L522.82,149.91 L523.60,149.92 L524.39,149.93 L525.17,149.93 L525.95,149.94 L526.73,149.95 L527.51,149.95 L528.30,149.96 L529.08,149.96 L529.86,149.97 L530.64,149.97 L531.42,149.98 L532.21,149.98 L532.99,149.98 L533.77,149.99 L534.55,149.99 L535.33,150.00 L536.12,150.00 L536.90,150.00 L537.68,150.01 L538.46,150.01 L539.24,150.02 L540.03,150.02 L540.81,150.02 L541.59,150.03 L542.37,150.03 L543.15,150.03 L543.94,150.04 L544.72,150.04 L545.50,150.04 L546.28,150.05 L547.06,150.05 L547.84,150.05 L548.63,150.06 L549.41,150.06 L550.19,150.06 L550.97,150.06 L551.75,150.07 L552.54,150.07 L553.32,150.07 L554.10,150.07 L554.88,150.08 L555.66,150.08 L556.45,150.08 L557.23,150.08 L558.01,150.08 L558.79,150.09 L559.57,150.09 L560.36,150.09 L561.14,150.09 L561.92,150.09 L562.70,150.09 L563.48,150.10 L564.27,150.10 L565.05,150.10 L565.83,150.10 L566.61,150.10 L567.39,150.10 L568.18,150.10 L568.96,150.10 L569.74,150.10 L570.52,150.10 L571.30,150.10 L572.08,150.10 L572.87,150.10 L573.65,150.10 L574.43,150.09 L575.21,150.09 L575.99,150.09 L576.78,150.08 L577.56,150.08 L578.34,150.08 L579.12,150.07 L579.90,150.07 L580.69,150.06 L581.47,150.06 L582.25,150.05 L583.03,150.05 L583.81,150.04 L584.60,150.04 L585.38,150.03 L586.16,150.02 L586.94,150.02 L587.72,150.01 L588.51,150.00 L589.29,150.00 L590.07,149.99 L590.85,149.98 L591.63,149.97 L592.42,149.97 L593.20,149.96 L593.98,149.95 L594.76,149.94 L595.54,149.94 L596.33,149.93 L597.11,149.92 L597.89,149.91 L598.67,149.91 L599.45,149.90 L600.23,149.89 L601.02,149.88 L601.80,149.87 L602.58,149.87 L603.36,149.86 L604.14,149.85 L604.93,149.85 L605.71,149.84 L606.49,149.83 L607.27,149.82 L608.05,149.82 L608.84,149.81 L609.62,149.81 L610.40,149.80" fill="none" stroke="#111" stroke-width="1.6" stroke-linejoin="round"/>
<path d="M374.60,113.13 L378.60,113.13 L376.60,109.63Z" fill="#111"/>
<path d="M378.50,114.04 L382.50,114.04 L380.50,110.54Z" fill="#111"/>
<path d="M382.39,114.96 L386.39,114.96 L384.39,111.46Z" fill="#111"/>
<path d="M386.29,115.87 L390.29,115.87 L388.29,112.37Z" fill="#111"/>
<path d="M390.19,116.79 L394.19,116.79 L392.19,113.29Z" fill="#111"/>
<path d="M394.08,117.71 L398.08,117.71 L396.08,114.21Z" fill="#111"/>
<path d="M397.98,118.62 L401.98,118.62 L399.98,115.12Z" fill="#111"/>
<path d="M401.88,119.53 L405.88,119.53 L403.88,116.03Z" fill="#111"/>
<path d="M405.77,120.44 L409.77,120.44 L407.77,116.94Z" fill="#111"/>
<path d="M409.67,121.34 L413.67,121.34 L411.67,117.84Z" fill="#111"/>
<path d="M413.57,122.23 L417.57,122.23 L415.57,118.73Z" fill="#111"/>
<path d="M417.46,123.11 L421.46,123.11 L419.46,119.61Z" fill="#111"/>
<path d="M421.36,123.98 L425.36,123.98 L423.36,120.48Z" fill="#111"/>
<path d="M425.26,124.85 L429.26,124.85 L427.26,121.35Z" fill="#111"/>
<path d="M429.15,125.71 L433.15,125.71 L431.15,122.21Z" fill="#111"/>
<path d="M433.05,126.57 L437.05,126.57 L435.05,123.07Z" fill="#111"/>
<path d="M436.95,127.43 L440.95,127.43 L438.95,123.93Z" fill="#111"/>
<path d="M440.84,128.29 L444.84,128.29 L442.84,124.79Z" fill="#111"/>
<path d="M444.74,129.16 L448.74,129.16 L446.74,125.66Z" fill="#111"/>
<path d="M448.64,130.04 L452.64,130.04 L450.64,126.54Z" fill="#111"/>
<path d="M452.53,130.89 L456.53,130.89 L454.53,127.39Z" fill="#111"/>
<path d="M456.43,131.79 L460.43,131.79 L458.43,128.29Z" fill="#111"/>
<path d="M460.33,132.85 L464.33,132.85 L462.33,129.35Z" fill="#111"/>
<path d="M464.22,134.07 L468.22,134.07 L466.22,130.57Z" fill="#111"/>
<path d="M468.12,135.55 L472.12,135.55 L470.12,132.05Z" fill="#111"/>
<path d="M472.02,137.57 L476.02,137.57 L474.02,134.07Z" fill="#111"/>
<path d="M475.91,139.96 L479.91,139.96 L477.91,136.46Z" fill="#111"/>
<path d="M479.81,142.28 L483.81,142.28 L481.81,138.78Z" fill="#111"/>
<path d="M483.71,144.69 L487.71,144.69 L485.71,141.19Z" fill="#111"/>
<path d="M487.60,146.74 L491.60,146.74 L489.60,143.24Z" fill="#111"/>
<path d="M491.50,148.22 L495.50,148.22 L493.50,144.72Z" fill="#111"/>
<path d="M495.40,149.42 L499.40,149.42 L497.40,145.92Z" fill="#111"/>
<path d="M499.29,150.24 L503.29,150.24 L501.29,146.74Z" fill="#111"/>
<path d="M503.19,150.88 L507.19,150.88 L505.19,147.38Z" fill="#111"/>
<path d="M507.09,151.27 L511.09,151.27 L509.09,147.77Z" fill="#111"/>
<path d="M510.98,151.37 L514.98,151.37 L512.98,147.87Z" fill="#111"/>
<path d="M514.88,151.44 L518.88,151.44 L516.88,147.94Z" fill="#111"/>
<path d="M518.78,151.49 L522.78,151.49 L520.78,147.99Z" fill="#111"/>
<path d="M522.67,151.53 L526.67,151.53 L524.67,148.03Z" fill="#111"/>
<path d="M526.57,151.56 L530.57,151.56 L528.57,148.06Z" fill="#111"/>
<path d="M530.47,151.58 L534.47,151.58 L532.47,148.08Z" fill="#111"/>
<path d="M534.36,151.60 L538.36,151.60 L536.36,148.10Z" fill="#111"/>
<path d="M538.26,151.62 L542.26,151.62 L540.26,148.12Z" fill="#111"/>
<path d="M542.16,151.64 L546.16,151.64 L544.16,148.14Z" fill="#111"/>
<path d="M546.05,151.65 L550.05,151.65 L548.05,148.15Z" fill="#111"/>
<path d="M549.95,151.67 L553.95,151.67 L551.95,148.17Z" fill="#111"/>
<path d="M553.85,151.68 L557.85,151.68 L555.85,148.18Z" fill="#111"/>
<path d="M557.74,151.69 L561.74,151.69 L559.74,148.19Z" fill="#111"/>
<path d="M561.64,151.70 L565.64,151.70 L563.64,148.20Z" fill="#111"/>
<path d="M565.54,151.70 L569.54,151.70 L567.54,148.20Z" fill="#111"/>
<path d="M569.43,151.70 L573.43,151.70 L571.43,148.20Z" fill="#111"/>
<path d="M573.33,151.69 L577.33,151.69 L575.33,148.19Z" fill="#111"/>
<path d="M577.23,151.67 L581.23,151.67 L579.23,148.17Z" fill="#111"/>
<path d="M581.12,151.65 L585.12,151.65 L583.12,148.15Z" fill="#111"/>
<path d="M585.02,151.62 L589.02,151.62 L587.02,148.12Z" fill="#111"/>
<path d="M588.92,151.58 L592.92,151.58 L590.92,148.08Z" fill="#111"/>
<path d="M592.81,151.54 L596.81,151.54 L594.81,148.04Z" fill="#111"/>
<path d="M596.71,151.50 L600.71,151.50 L598.71,148.00Z" fill="#111"/>
<path d="M600.61,151.47 L604.61,151.47 L602.61,147.97Z" fill="#111"/>
<path d="M604.50,151.43 L608.50,151.43 L606.50,147.93Z" fill="#111"/>
<path d="M608.40,151.40 L612.40,151.40 L610.40,147.90Z" fill="#111"/>
<line x1="58.199999999999996" y1="244.20000000000002" x2="58.199999999999996" y2="401.9" stroke="#1c1c1c" stroke-width="1.5"/>
<line x1="52.199999999999996" y1="401.2" x2="292.5" y2="401.2" stroke="#1c1c1c" stroke-width="1.6"/>
<line x1="52.199999999999996" y1="244.9" x2="57.8" y2="244.9" stroke="#1c1c1c" stroke-width="1.5"/>
<text x="46.8" y="249.10" text-anchor="end" class="t">5000</text>
<line x1="52.4" y1="270.95" x2="57.8" y2="270.95" stroke="#1a1a1a" stroke-width="1.2"/>
<text x="46.8" y="275.15" text-anchor="end" class="t">4500</text>
<line x1="52.4" y1="297.00" x2="57.8" y2="297.00" stroke="#1a1a1a" stroke-width="1.2"/>
<text x="46.8" y="301.20" text-anchor="end" class="t">4000</text>
<line x1="52.4" y1="323.05" x2="57.8" y2="323.05" stroke="#1a1a1a" stroke-width="1.2"/>
<text x="46.8" y="327.25" text-anchor="end" class="t">3500</text>
<line x1="52.4" y1="349.10" x2="57.8" y2="349.10" stroke="#1a1a1a" stroke-width="1.2"/>
<text x="46.8" y="353.30" text-anchor="end" class="t">3000</text>
<line x1="52.4" y1="375.15" x2="57.8" y2="375.15" stroke="#1a1a1a" stroke-width="1.2"/>
<text x="46.8" y="379.35" text-anchor="end" class="t">2500</text>
<text x="46.8" y="405.40" text-anchor="end" class="t">2000</text>
<line x1="96.80" y1="401.2" x2="96.80" y2="406.4" stroke="#1a1a1a" stroke-width="1.2"/>
<text x="96.80" y="420.90" text-anchor="middle" class="t">70</text>
<line x1="135.80" y1="401.2" x2="135.80" y2="404.8" stroke="#1a1a1a" stroke-width="1.2"/>
<line x1="174.80" y1="401.2" x2="174.80" y2="406.4" stroke="#1a1a1a" stroke-width="1.2"/>
<text x="174.80" y="420.90" text-anchor="middle" class="t">80</text>
<line x1="213.80" y1="401.2" x2="213.80" y2="404.8" stroke="#1a1a1a" stroke-width="1.2"/>
<line x1="252.80" y1="401.2" x2="252.80" y2="406.4" stroke="#1a1a1a" stroke-width="1.2"/>
<text x="252.80" y="420.90" text-anchor="middle" class="t">90</text>
<line x1="291.80" y1="401.2" x2="291.80" y2="404.8" stroke="#1a1a1a" stroke-width="1.2"/>
<text x="123.1" y="440.9" class="l" textLength="78" lengthAdjust="spacing">Temperature</text>
<text x="201.6" y="440.7" class="pr">(</text>
<circle cx="208.7" cy="433.0" r="1.2" fill="none" stroke="#111" stroke-width="0.85"/>
<text x="209.79999999999998" y="440.7" style="font:normal 12px 'Liberation Sans',sans-serif" fill="#111">C</text>
<text x="220.6" y="440.7" class="pr">)</text>
<text transform="translate(12.5,322.6) rotate(-90)" text-anchor="middle" class="yl" textLength="149.6" lengthAdjust="spacing">Fluorescence intensity</text>
<text x="9.9" y="237.3" class="p">c</text>
<line x1="174.9" y1="274.9" x2="191.70000000000002" y2="274.9" stroke="#0c0c0c" stroke-width="1.55"/>
<circle cx="183.3" cy="274.9" r="1.35" fill="#0c0c0c"/>
<text x="206.5" y="277.1" class="g1" textLength="89.4" lengthAdjust="spacingAndGlyphs">Zika virus MR766</text>
<line x1="174.9" y1="292.59999999999997" x2="191.70000000000002" y2="292.59999999999997" stroke="#0c0c0c" stroke-width="1.55"/>
<circle cx="183.3" cy="292.59999999999997" r="1.35" fill="#0c0c0c"/>
<text x="205.2" y="294.5" class="g2" textLength="90.0" lengthAdjust="spacingAndGlyphs">Negative control</text>
<path d="M57.80,276.90 L58.58,277.11 L59.37,277.31 L60.15,277.52 L60.93,277.72 L61.71,277.93 L62.50,278.13 L63.28,278.34 L64.06,278.54 L64.84,278.75 L65.63,278.96 L66.41,279.16 L67.19,279.37 L67.97,279.57 L68.76,279.78 L69.54,279.98 L70.32,280.19 L71.10,280.39 L71.89,280.60 L72.67,280.80 L73.45,281.01 L74.23,281.22 L75.02,281.42 L75.80,281.63 L76.58,281.83 L77.37,282.04 L78.15,282.24 L78.93,282.45 L79.71,282.65 L80.50,282.86 L81.28,283.07 L82.06,283.27 L82.84,283.48 L83.63,283.68 L84.41,283.89 L85.19,284.09 L85.97,284.30 L86.76,284.50 L87.54,284.71 L88.32,284.92 L89.10,285.12 L89.89,285.33 L90.67,285.53 L91.45,285.74 L92.23,285.95 L93.02,286.15 L93.80,286.36 L94.58,286.56 L95.37,286.77 L96.15,286.98 L96.93,287.18 L97.71,287.39 L98.50,287.59 L99.28,287.80 L100.06,288.01 L100.84,288.22 L101.63,288.43 L102.41,288.63 L103.19,288.84 L103.97,289.05 L104.76,289.26 L105.54,289.47 L106.32,289.68 L107.10,289.89 L107.89,290.10 L108.67,290.31 L109.45,290.52 L110.23,290.73 L111.02,290.94 L111.80,291.15 L112.58,291.36 L113.37,291.57 L114.15,291.78 L114.93,291.99 L115.71,292.20 L116.50,292.41 L117.28,292.62 L118.06,292.83 L118.84,293.03 L119.63,293.24 L120.41,293.45 L121.19,293.66 L121.97,293.87 L122.76,294.07 L123.54,294.28 L124.32,294.49 L125.10,294.69 L125.89,294.90 L126.67,295.10 L127.45,295.31 L128.23,295.51 L129.02,295.72 L129.80,295.92 L130.58,296.12 L131.37,296.32 L132.15,296.52 L132.93,296.72 L133.71,296.92 L134.50,297.12 L135.28,297.32 L136.06,297.52 L136.84,297.71 L137.63,297.90 L138.41,298.09 L139.19,298.27 L139.97,298.45 L140.76,298.63 L141.54,298.81 L142.32,298.99 L143.10,299.17 L143.89,299.36 L144.67,299.54 L145.45,299.73 L146.23,299.92 L147.02,300.11 L147.80,300.31 L148.58,300.51 L149.37,300.72 L150.15,300.94 L150.93,301.17 L151.71,301.40 L152.50,301.64 L153.28,301.88 L154.06,302.13 L154.84,302.39 L155.63,302.65 L156.41,302.91 L157.19,303.18 L157.97,303.45 L158.76,303.72 L159.54,304.00 L160.32,304.27 L161.10,304.55 L161.89,304.82 L162.67,305.10 L163.45,305.37 L164.23,305.64 L165.02,305.91 L165.80,306.16 L166.58,306.39 L167.37,306.62 L168.15,306.84 L168.93,307.07 L169.71,307.31 L170.50,307.58 L171.28,307.89 L172.06,308.23 L172.84,308.62 L173.63,309.15 L174.41,309.82 L175.19,310.61 L175.97,311.48 L176.76,312.38 L177.54,313.36 L178.32,314.44 L179.10,315.61 L179.89,316.86 L180.67,318.17 L181.45,319.54 L182.23,321.00 L183.02,322.62 L183.80,324.34 L184.58,326.11 L185.37,327.85 L186.15,329.50 L186.93,331.05 L187.71,332.54 L188.50,334.03 L189.28,335.58 L190.06,337.23 L190.84,339.07 L191.63,341.13 L192.41,343.37 L193.19,345.73 L193.97,348.17 L194.76,350.62 L195.54,353.03 L196.32,355.35 L197.10,357.52 L197.89,359.48 L198.67,361.22 L199.45,362.83 L200.23,364.34 L201.02,365.78 L201.80,367.15 L202.58,368.47 L203.37,369.78 L204.15,371.12 L204.93,372.41 L205.71,373.57 L206.50,374.50 L207.28,375.22 L208.06,375.89 L208.84,376.49 L209.63,377.02 L210.41,377.45 L211.19,377.77 L211.97,377.96 L212.76,378.10 L213.54,378.24 L214.32,378.36 L215.10,378.46 L215.89,378.55 L216.67,378.64 L217.45,378.71 L218.23,378.77 L219.02,378.82 L219.80,378.87 L220.58,378.90 L221.37,378.94 L222.15,378.97 L222.93,379.00 L223.71,379.03 L224.50,379.06 L225.28,379.08 L226.06,379.11 L226.84,379.13 L227.63,379.15 L228.41,379.17 L229.19,379.19 L229.97,379.21 L230.76,379.23 L231.54,379.25 L232.32,379.27 L233.10,379.28 L233.89,379.30 L234.67,379.31 L235.45,379.33 L236.23,379.34 L237.02,379.35 L237.80,379.37 L238.58,379.38 L239.37,379.39 L240.15,379.41 L240.93,379.42 L241.71,379.43 L242.50,379.45 L243.28,379.46 L244.06,379.47 L244.84,379.49 L245.63,379.50 L246.41,379.52 L247.19,379.54 L247.97,379.55 L248.76,379.57 L249.54,379.59 L250.32,379.61 L251.10,379.63 L251.89,379.65 L252.67,379.67 L253.45,379.69 L254.23,379.71 L255.02,379.73 L255.80,379.75 L256.58,379.77 L257.37,379.79 L258.15,379.81 L258.93,379.83 L259.71,379.85 L260.50,379.87 L261.28,379.89 L262.06,379.91 L262.84,379.93 L263.63,379.95 L264.41,379.97 L265.19,379.99 L265.97,380.01 L266.76,380.03 L267.54,380.05 L268.32,380.07 L269.10,380.09 L269.89,380.12 L270.67,380.14 L271.45,380.16 L272.23,380.18 L273.02,380.20 L273.80,380.22 L274.58,380.24 L275.37,380.26 L276.15,380.28 L276.93,380.30 L277.71,380.32 L278.50,380.35 L279.28,380.37 L280.06,380.39 L280.84,380.41 L281.63,380.43 L282.41,380.45 L283.19,380.47 L283.97,380.49 L284.76,380.51 L285.54,380.53 L286.32,380.55 L287.10,380.58 L287.89,380.60 L288.67,380.62 L289.45,380.64 L290.23,380.66 L291.02,380.68 L291.80,380.70" fill="none" stroke="#111" stroke-width="1.6" stroke-linejoin="round"/>
<path d="M55.80,278.50 L59.80,278.50 L57.80,275.00Z" fill="#111"/>
<path d="M59.70,279.52 L63.70,279.52 L61.70,276.02Z" fill="#111"/>
<path d="M63.60,280.55 L67.60,280.55 L65.60,277.05Z" fill="#111"/>
<path d="M67.50,281.57 L71.50,281.57 L69.50,278.07Z" fill="#111"/>
<path d="M71.40,282.60 L75.40,282.60 L73.40,279.10Z" fill="#111"/>
<path d="M75.30,283.62 L79.30,283.62 L77.30,280.12Z" fill="#111"/>
<path d="M79.20,284.64 L83.20,284.64 L81.20,281.14Z" fill="#111"/>
<path d="M83.10,285.67 L87.10,285.67 L85.10,282.17Z" fill="#111"/>
<path d="M87.00,286.69 L91.00,286.69 L89.00,283.19Z" fill="#111"/>
<path d="M90.90,287.72 L94.90,287.72 L92.90,284.22Z" fill="#111"/>
<path d="M94.80,288.75 L98.80,288.75 L96.80,285.25Z" fill="#111"/>
<path d="M98.70,289.78 L102.70,289.78 L100.70,286.28Z" fill="#111"/>
<path d="M102.60,290.82 L106.60,290.82 L104.60,287.32Z" fill="#111"/>
<path d="M106.50,291.86 L110.50,291.86 L108.50,288.36Z" fill="#111"/>
<path d="M110.40,292.91 L114.40,292.91 L112.40,289.41Z" fill="#111"/>
<path d="M114.30,293.96 L118.30,293.96 L116.30,290.46Z" fill="#111"/>
<path d="M118.20,295.00 L122.20,295.00 L120.20,291.50Z" fill="#111"/>
<path d="M122.10,296.03 L126.10,296.03 L124.10,292.53Z" fill="#111"/>
<path d="M126.00,297.05 L130.00,297.05 L128.00,293.55Z" fill="#111"/>
<path d="M129.90,298.06 L133.90,298.06 L131.90,294.56Z" fill="#111"/>
<path d="M133.80,299.05 L137.80,299.05 L135.80,295.55Z" fill="#111"/>
<path d="M137.70,299.99 L141.70,299.99 L139.70,296.49Z" fill="#111"/>
<path d="M141.60,300.89 L145.60,300.89 L143.60,297.39Z" fill="#111"/>
<path d="M145.50,301.83 L149.50,301.83 L147.50,298.33Z" fill="#111"/>
<path d="M149.40,302.91 L153.40,302.91 L151.40,299.41Z" fill="#111"/>
<path d="M153.30,304.14 L157.30,304.14 L155.30,300.64Z" fill="#111"/>
<path d="M157.20,305.48 L161.20,305.48 L159.20,301.98Z" fill="#111"/>
<path d="M161.10,306.85 L165.10,306.85 L163.10,303.35Z" fill="#111"/>
<path d="M165.00,308.11 L169.00,308.11 L167.00,304.61Z" fill="#111"/>
<path d="M168.90,309.33 L172.90,309.33 L170.90,305.83Z" fill="#111"/>
<path d="M172.80,311.81 L176.80,311.81 L174.80,308.31Z" fill="#111"/>
<path d="M176.70,316.60 L180.70,316.60 L178.70,313.10Z" fill="#111"/>
<path d="M180.60,323.34 L184.60,323.34 L182.60,319.84Z" fill="#111"/>
<path d="M184.50,331.81 L188.50,331.81 L186.50,328.31Z" fill="#111"/>
<path d="M188.40,339.60 L192.40,339.60 L190.40,336.10Z" fill="#111"/>
<path d="M192.30,350.79 L196.30,350.79 L194.30,347.29Z" fill="#111"/>
<path d="M196.20,361.80 L200.20,361.80 L198.20,358.30Z" fill="#111"/>
<path d="M200.10,369.26 L204.10,369.26 L202.10,365.76Z" fill="#111"/>
<path d="M204.00,375.54 L208.00,375.54 L206.00,372.04Z" fill="#111"/>
<path d="M207.90,378.78 L211.90,378.78 L209.90,375.28Z" fill="#111"/>
<path d="M211.80,379.88 L215.80,379.88 L213.80,376.38Z" fill="#111"/>
<path d="M215.70,380.33 L219.70,380.33 L217.70,376.83Z" fill="#111"/>
<path d="M219.60,380.55 L223.60,380.55 L221.60,377.05Z" fill="#111"/>
<path d="M223.50,380.69 L227.50,380.69 L225.50,377.19Z" fill="#111"/>
<path d="M227.40,380.80 L231.40,380.80 L229.40,377.30Z" fill="#111"/>
<path d="M231.30,380.89 L235.30,380.89 L233.30,377.39Z" fill="#111"/>
<path d="M235.20,380.96 L239.20,380.96 L237.20,377.46Z" fill="#111"/>
<path d="M239.10,381.02 L243.10,381.02 L241.10,377.52Z" fill="#111"/>
<path d="M243.00,381.09 L247.00,381.09 L245.00,377.59Z" fill="#111"/>
<path d="M246.90,381.17 L250.90,381.17 L248.90,377.67Z" fill="#111"/>
<path d="M250.80,381.27 L254.80,381.27 L252.80,377.77Z" fill="#111"/>
<path d="M254.70,381.37 L258.70,381.37 L256.70,377.87Z" fill="#111"/>
<path d="M258.60,381.47 L262.60,381.47 L260.60,377.97Z" fill="#111"/>
<path d="M262.50,381.57 L266.50,381.57 L264.50,378.07Z" fill="#111"/>
<path d="M266.40,381.68 L270.40,381.68 L268.40,378.18Z" fill="#111"/>
<path d="M270.30,381.78 L274.30,381.78 L272.30,378.28Z" fill="#111"/>
<path d="M274.20,381.88 L278.20,381.88 L276.20,378.38Z" fill="#111"/>
<path d="M278.10,381.99 L282.10,381.99 L280.10,378.49Z" fill="#111"/>
<path d="M282.00,382.09 L286.00,382.09 L284.00,378.59Z" fill="#111"/>
<path d="M285.90,382.20 L289.90,382.20 L287.90,378.70Z" fill="#111"/>
<path d="M289.80,382.30 L293.80,382.30 L291.80,378.80Z" fill="#111"/>
<path d="M57.80,341.90 L58.58,342.02 L59.37,342.13 L60.15,342.25 L60.93,342.36 L61.71,342.48 L62.50,342.59 L63.28,342.71 L64.06,342.83 L64.84,342.94 L65.63,343.06 L66.41,343.17 L67.19,343.29 L67.97,343.40 L68.76,343.52 L69.54,343.64 L70.32,343.75 L71.10,343.87 L71.89,343.98 L72.67,344.10 L73.45,344.21 L74.23,344.33 L75.02,344.45 L75.80,344.56 L76.58,344.68 L77.37,344.79 L78.15,344.91 L78.93,345.02 L79.71,345.14 L80.50,345.26 L81.28,345.37 L82.06,345.49 L82.84,345.60 L83.63,345.72 L84.41,345.83 L85.19,345.95 L85.97,346.07 L86.76,346.18 L87.54,346.30 L88.32,346.41 L89.10,346.53 L89.89,346.65 L90.67,346.76 L91.45,346.88 L92.23,346.99 L93.02,347.11 L93.80,347.23 L94.58,347.34 L95.37,347.46 L96.15,347.57 L96.93,347.69 L97.71,347.81 L98.50,347.92 L99.28,348.03 L100.06,348.15 L100.84,348.26 L101.63,348.37 L102.41,348.48 L103.19,348.60 L103.97,348.71 L104.76,348.82 L105.54,348.93 L106.32,349.04 L107.10,349.14 L107.89,349.25 L108.67,349.36 L109.45,349.47 L110.23,349.58 L111.02,349.69 L111.80,349.80 L112.58,349.91 L113.37,350.02 L114.15,350.13 L114.93,350.24 L115.71,350.35 L116.50,350.46 L117.28,350.57 L118.06,350.68 L118.84,350.79 L119.63,350.90 L120.41,351.02 L121.19,351.13 L121.97,351.25 L122.76,351.36 L123.54,351.48 L124.32,351.60 L125.10,351.71 L125.89,351.83 L126.67,351.96 L127.45,352.08 L128.23,352.20 L129.02,352.32 L129.80,352.45 L130.58,352.58 L131.37,352.71 L132.15,352.84 L132.93,352.97 L133.71,353.10 L134.50,353.24 L135.28,353.37 L136.06,353.51 L136.84,353.65 L137.63,353.80 L138.41,353.96 L139.19,354.12 L139.97,354.28 L140.76,354.45 L141.54,354.62 L142.32,354.79 L143.10,354.96 L143.89,355.13 L144.67,355.30 L145.45,355.47 L146.23,355.64 L147.02,355.81 L147.80,355.97 L148.58,356.13 L149.37,356.28 L150.15,356.43 L150.93,356.57 L151.71,356.72 L152.50,356.86 L153.28,357.00 L154.06,357.15 L154.84,357.29 L155.63,357.43 L156.41,357.57 L157.19,357.70 L157.97,357.84 L158.76,357.97 L159.54,358.10 L160.32,358.22 L161.10,358.34 L161.89,358.46 L162.67,358.58 L163.45,358.69 L164.23,358.80 L165.02,358.90 L165.80,359.00 L166.58,359.11 L167.37,359.21 L168.15,359.31 L168.93,359.41 L169.71,359.51 L170.50,359.60 L171.28,359.69 L172.06,359.77 L172.84,359.84 L173.63,359.91 L174.41,359.96 L175.19,360.00 L175.97,360.03 L176.76,360.07 L177.54,360.10 L178.32,360.13 L179.10,360.16 L179.89,360.19 L180.67,360.22 L181.45,360.25 L182.23,360.27 L183.02,360.29 L183.80,360.32 L184.58,360.33 L185.37,360.35 L186.15,360.37 L186.93,360.38 L187.71,360.39 L188.50,360.39 L189.28,360.40 L190.06,360.40 L190.84,360.40 L191.63,360.40 L192.41,360.40 L193.19,360.40 L193.97,360.40 L194.76,360.40 L195.54,360.40 L196.32,360.39 L197.10,360.39 L197.89,360.39 L198.67,360.39 L199.45,360.39 L200.23,360.38 L201.02,360.38 L201.80,360.38 L202.58,360.38 L203.37,360.37 L204.15,360.37 L204.93,360.37 L205.71,360.37 L206.50,360.36 L207.28,360.36 L208.06,360.36 L208.84,360.35 L209.63,360.35 L210.41,360.35 L211.19,360.34 L211.97,360.34 L212.76,360.34 L213.54,360.33 L214.32,360.33 L215.10,360.32 L215.89,360.32 L216.67,360.32 L217.45,360.31 L218.23,360.31 L219.02,360.30 L219.80,360.30 L220.58,360.30 L221.37,360.29 L222.15,360.29 L222.93,360.28 L223.71,360.28 L224.50,360.27 L225.28,360.27 L226.06,360.26 L226.84,360.26 L227.63,360.25 L228.41,360.24 L229.19,360.24 L229.97,360.23 L230.76,360.22 L231.54,360.22 L232.32,360.21 L233.10,360.20 L233.89,360.19 L234.67,360.18 L235.45,360.18 L236.23,360.17 L237.02,360.16 L237.80,360.15 L238.58,360.14 L239.37,360.13 L240.15,360.12 L240.93,360.12 L241.71,360.11 L242.50,360.10 L243.28,360.09 L244.06,360.08 L244.84,360.07 L245.63,360.06 L246.41,360.05 L247.19,360.04 L247.97,360.03 L248.76,360.02 L249.54,360.01 L250.32,360.00 L251.10,359.98 L251.89,359.97 L252.67,359.96 L253.45,359.95 L254.23,359.94 L255.02,359.92 L255.80,359.91 L256.58,359.90 L257.37,359.88 L258.15,359.87 L258.93,359.85 L259.71,359.84 L260.50,359.82 L261.28,359.81 L262.06,359.79 L262.84,359.77 L263.63,359.76 L264.41,359.74 L265.19,359.72 L265.97,359.71 L266.76,359.69 L267.54,359.67 L268.32,359.65 L269.10,359.63 L269.89,359.62 L270.67,359.60 L271.45,359.58 L272.23,359.56 L273.02,359.54 L273.80,359.52 L274.58,359.50 L275.37,359.49 L276.15,359.47 L276.93,359.45 L277.71,359.43 L278.50,359.41 L279.28,359.39 L280.06,359.37 L280.84,359.35 L281.63,359.33 L282.41,359.32 L283.19,359.30 L283.97,359.28 L284.76,359.26 L285.54,359.24 L286.32,359.22 L287.10,359.20 L287.89,359.19 L288.67,359.17 L289.45,359.15 L290.23,359.13 L291.02,359.12 L291.80,359.10" fill="none" stroke="#111" stroke-width="1.3" stroke-linejoin="round"/>
<circle cx="57.80" cy="341.90" r="1.68" fill="#111"/>
<circle cx="61.70" cy="342.48" r="1.68" fill="#111"/>
<circle cx="65.60" cy="343.05" r="1.68" fill="#111"/>
<circle cx="69.50" cy="343.63" r="1.68" fill="#111"/>
<circle cx="73.40" cy="344.21" r="1.68" fill="#111"/>
<circle cx="77.30" cy="344.78" r="1.68" fill="#111"/>
<circle cx="81.20" cy="345.36" r="1.68" fill="#111"/>
<circle cx="85.10" cy="345.94" r="1.68" fill="#111"/>
<circle cx="89.00" cy="346.51" r="1.68" fill="#111"/>
<circle cx="92.90" cy="347.09" r="1.68" fill="#111"/>
<circle cx="96.80" cy="347.67" r="1.68" fill="#111"/>
<circle cx="100.70" cy="348.24" r="1.68" fill="#111"/>
<circle cx="104.60" cy="348.79" r="1.68" fill="#111"/>
<circle cx="108.50" cy="349.34" r="1.68" fill="#111"/>
<circle cx="112.40" cy="349.88" r="1.68" fill="#111"/>
<circle cx="116.30" cy="350.43" r="1.68" fill="#111"/>
<circle cx="120.20" cy="350.99" r="1.68" fill="#111"/>
<circle cx="124.10" cy="351.56" r="1.68" fill="#111"/>
<circle cx="128.00" cy="352.16" r="1.68" fill="#111"/>
<circle cx="131.90" cy="352.79" r="1.68" fill="#111"/>
<circle cx="135.80" cy="353.46" r="1.68" fill="#111"/>
<circle cx="139.70" cy="354.22" r="1.68" fill="#111"/>
<circle cx="143.60" cy="355.07" r="1.68" fill="#111"/>
<circle cx="147.50" cy="355.91" r="1.68" fill="#111"/>
<circle cx="151.40" cy="356.66" r="1.68" fill="#111"/>
<circle cx="155.30" cy="357.37" r="1.68" fill="#111"/>
<circle cx="159.20" cy="358.04" r="1.68" fill="#111"/>
<circle cx="163.10" cy="358.64" r="1.68" fill="#111"/>
<circle cx="167.00" cy="359.16" r="1.68" fill="#111"/>
<circle cx="170.90" cy="359.65" r="1.68" fill="#111"/>
<circle cx="174.80" cy="359.98" r="1.68" fill="#111"/>
<circle cx="178.70" cy="360.15" r="1.68" fill="#111"/>
<circle cx="182.60" cy="360.28" r="1.68" fill="#111"/>
<circle cx="186.50" cy="360.37" r="1.68" fill="#111"/>
<circle cx="190.40" cy="360.40" r="1.68" fill="#111"/>
<circle cx="194.30" cy="360.40" r="1.68" fill="#111"/>
<circle cx="198.20" cy="360.39" r="1.68" fill="#111"/>
<circle cx="202.10" cy="360.38" r="1.68" fill="#111"/>
<circle cx="206.00" cy="360.36" r="1.68" fill="#111"/>
<circle cx="209.90" cy="360.35" r="1.68" fill="#111"/>
<circle cx="213.80" cy="360.33" r="1.68" fill="#111"/>
<circle cx="217.70" cy="360.31" r="1.68" fill="#111"/>
<circle cx="221.60" cy="360.29" r="1.68" fill="#111"/>
<circle cx="225.50" cy="360.27" r="1.68" fill="#111"/>
<circle cx="229.40" cy="360.24" r="1.68" fill="#111"/>
<circle cx="233.30" cy="360.20" r="1.68" fill="#111"/>
<circle cx="237.20" cy="360.16" r="1.68" fill="#111"/>
<circle cx="241.10" cy="360.11" r="1.68" fill="#111"/>
<circle cx="245.00" cy="360.07" r="1.68" fill="#111"/>
<circle cx="248.90" cy="360.01" r="1.68" fill="#111"/>
<circle cx="252.80" cy="359.96" r="1.68" fill="#111"/>
<circle cx="256.70" cy="359.89" r="1.68" fill="#111"/>
<circle cx="260.60" cy="359.82" r="1.68" fill="#111"/>
<circle cx="264.50" cy="359.74" r="1.68" fill="#111"/>
<circle cx="268.40" cy="359.65" r="1.68" fill="#111"/>
<circle cx="272.30" cy="359.56" r="1.68" fill="#111"/>
<circle cx="276.20" cy="359.47" r="1.68" fill="#111"/>
<circle cx="280.10" cy="359.37" r="1.68" fill="#111"/>
<circle cx="284.00" cy="359.28" r="1.68" fill="#111"/>
<circle cx="287.90" cy="359.19" r="1.68" fill="#111"/>
<circle cx="291.80" cy="359.10" r="1.68" fill="#111"/>
<line x1="389.29999999999995" y1="244.20000000000002" x2="389.29999999999995" y2="401.84999999999997" stroke="#1c1c1c" stroke-width="1.5"/>
<line x1="383.29999999999995" y1="401.15" x2="624.5" y2="401.15" stroke="#1c1c1c" stroke-width="1.6"/>
<line x1="383.29999999999995" y1="244.9" x2="388.9" y2="244.9" stroke="#1c1c1c" stroke-width="1.5"/>
<text x="378.3" y="249.10" text-anchor="end" class="t">5000</text>
<line x1="383.5" y1="270.94" x2="388.9" y2="270.94" stroke="#1a1a1a" stroke-width="1.2"/>
<text x="378.3" y="275.14" text-anchor="end" class="t">4500</text>
<line x1="383.5" y1="296.98" x2="388.9" y2="296.98" stroke="#1a1a1a" stroke-width="1.2"/>
<text x="378.3" y="301.18" text-anchor="end" class="t">4000</text>
<line x1="383.5" y1="323.02" x2="388.9" y2="323.02" stroke="#1a1a1a" stroke-width="1.2"/>
<text x="378.3" y="327.22" text-anchor="end" class="t">3500</text>
<line x1="383.5" y1="349.07" x2="388.9" y2="349.07" stroke="#1a1a1a" stroke-width="1.2"/>
<text x="378.3" y="353.27" text-anchor="end" class="t">3000</text>
<line x1="383.5" y1="375.11" x2="388.9" y2="375.11" stroke="#1a1a1a" stroke-width="1.2"/>
<text x="378.3" y="379.31" text-anchor="end" class="t">2500</text>
<text x="378.3" y="405.35" text-anchor="end" class="t">2000</text>
<line x1="428.05" y1="401.15" x2="428.05" y2="406.34999999999997" stroke="#1a1a1a" stroke-width="1.2"/>
<text x="428.05" y="420.85" text-anchor="middle" class="t">70</text>
<line x1="467.20" y1="401.15" x2="467.20" y2="404.75" stroke="#1a1a1a" stroke-width="1.2"/>
<line x1="506.35" y1="401.15" x2="506.35" y2="406.34999999999997" stroke="#1a1a1a" stroke-width="1.2"/>
<text x="506.35" y="420.85" text-anchor="middle" class="t">80</text>
<line x1="545.50" y1="401.15" x2="545.50" y2="404.75" stroke="#1a1a1a" stroke-width="1.2"/>
<line x1="584.65" y1="401.15" x2="584.65" y2="406.34999999999997" stroke="#1a1a1a" stroke-width="1.2"/>
<text x="584.65" y="420.85" text-anchor="middle" class="t">90</text>
<line x1="623.80" y1="401.15" x2="623.80" y2="404.75" stroke="#1a1a1a" stroke-width="1.2"/>
<text x="454.4" y="440.84999999999997" class="l" textLength="78" lengthAdjust="spacing">Temperature</text>
<text x="532.9" y="440.65" class="pr">(</text>
<circle cx="539.9999999999999" cy="432.95" r="1.2" fill="none" stroke="#111" stroke-width="0.85"/>
<text x="541.0999999999999" y="440.65" style="font:normal 12px 'Liberation Sans',sans-serif" fill="#111">C</text>
<text x="551.9" y="440.65" class="pr">)</text>
<text transform="translate(340.8,323.6) rotate(-90)" text-anchor="middle" class="yl" textLength="149.6" lengthAdjust="spacing">Fluorescence intensity</text>
<text x="338.9" y="237.5" class="p">d</text>
<line x1="506.8" y1="274.9" x2="523.6" y2="274.9" stroke="#0c0c0c" stroke-width="1.55"/>
<circle cx="515.2" cy="274.9" r="1.35" fill="#0c0c0c"/>
<text x="541.0" y="277.0" class="g1" textLength="89.4" lengthAdjust="spacingAndGlyphs">Zika virus MR766</text>
<line x1="506.8" y1="292.59999999999997" x2="523.6" y2="292.59999999999997" stroke="#0c0c0c" stroke-width="1.55"/>
<circle cx="515.2" cy="292.59999999999997" r="1.35" fill="#0c0c0c"/>
<text x="539.6" y="294.5" class="g2" textLength="91.3" lengthAdjust="spacingAndGlyphs">Negative control</text>
<path d="M388.90,320.50 L389.69,320.70 L390.47,320.90 L391.26,321.10 L392.04,321.30 L392.83,321.50 L393.61,321.70 L394.40,321.90 L395.18,322.10 L395.97,322.31 L396.76,322.51 L397.54,322.71 L398.33,322.91 L399.11,323.11 L399.90,323.31 L400.68,323.51 L401.47,323.71 L402.26,323.91 L403.04,324.12 L403.83,324.32 L404.61,324.52 L405.40,324.72 L406.18,324.92 L406.97,325.12 L407.75,325.32 L408.54,325.52 L409.33,325.72 L410.11,325.92 L410.90,326.12 L411.68,326.31 L412.47,326.51 L413.25,326.71 L414.04,326.91 L414.83,327.11 L415.61,327.30 L416.40,327.50 L417.18,327.69 L417.97,327.89 L418.75,328.08 L419.54,328.27 L420.32,328.45 L421.11,328.64 L421.90,328.82 L422.68,329.01 L423.47,329.19 L424.25,329.37 L425.04,329.56 L425.82,329.74 L426.61,329.92 L427.40,330.10 L428.18,330.29 L428.97,330.47 L429.75,330.66 L430.54,330.85 L431.32,331.04 L432.11,331.23 L432.89,331.42 L433.68,331.62 L434.47,331.81 L435.25,332.01 L436.04,332.22 L436.82,332.42 L437.61,332.64 L438.39,332.85 L439.18,333.07 L439.97,333.29 L440.75,333.52 L441.54,333.75 L442.32,334.00 L443.11,334.25 L443.89,334.51 L444.68,334.78 L445.46,335.07 L446.25,335.37 L447.04,335.68 L447.82,336.00 L448.61,336.32 L449.39,336.66 L450.18,337.00 L450.96,337.36 L451.75,337.71 L452.54,338.08 L453.32,338.44 L454.11,338.82 L454.89,339.19 L455.68,339.57 L456.46,339.95 L457.25,340.33 L458.03,340.72 L458.82,341.11 L459.61,341.51 L460.39,341.92 L461.18,342.34 L461.96,342.76 L462.75,343.20 L463.53,343.63 L464.32,344.07 L465.11,344.51 L465.89,344.95 L466.68,345.39 L467.46,345.82 L468.25,346.25 L469.03,346.68 L469.82,347.09 L470.60,347.50 L471.39,347.90 L472.18,348.29 L472.96,348.69 L473.75,349.10 L474.53,349.50 L475.32,349.91 L476.10,350.31 L476.89,350.70 L477.67,351.08 L478.46,351.45 L479.25,351.80 L480.03,352.12 L480.82,352.43 L481.60,352.71 L482.39,352.96 L483.17,353.19 L483.96,353.41 L484.75,353.61 L485.53,353.81 L486.32,353.99 L487.10,354.17 L487.89,354.34 L488.67,354.49 L489.46,354.65 L490.24,354.79 L491.03,354.93 L491.82,355.07 L492.60,355.20 L493.39,355.33 L494.17,355.45 L494.96,355.57 L495.74,355.69 L496.53,355.80 L497.32,355.90 L498.10,356.00 L498.89,356.09 L499.67,356.17 L500.46,356.24 L501.24,356.32 L502.03,356.39 L502.81,356.47 L503.60,356.54 L504.39,356.61 L505.17,356.68 L505.96,356.75 L506.74,356.81 L507.53,356.87 L508.31,356.92 L509.10,356.97 L509.89,357.01 L510.67,357.05 L511.46,357.07 L512.24,357.09 L513.03,357.10 L513.81,357.11 L514.60,357.11 L515.38,357.12 L516.17,357.12 L516.96,357.12 L517.74,357.13 L518.53,357.13 L519.31,357.14 L520.10,357.14 L520.88,357.14 L521.67,357.15 L522.46,357.15 L523.24,357.16 L524.03,357.16 L524.81,357.16 L525.60,357.16 L526.38,357.17 L527.17,357.17 L527.95,357.17 L528.74,357.18 L529.53,357.18 L530.31,357.18 L531.10,357.18 L531.88,357.18 L532.67,357.19 L533.45,357.19 L534.24,357.19 L535.03,357.19 L535.81,357.19 L536.60,357.19 L537.38,357.19 L538.17,357.20 L538.95,357.20 L539.74,357.20 L540.52,357.20 L541.31,357.20 L542.10,357.20 L542.88,357.20 L543.67,357.20 L544.45,357.20 L545.24,357.20 L546.02,357.20 L546.81,357.20 L547.59,357.20 L548.38,357.19 L549.17,357.19 L549.95,357.18 L550.74,357.17 L551.52,357.16 L552.31,357.14 L553.09,357.13 L553.88,357.12 L554.67,357.10 L555.45,357.08 L556.24,357.07 L557.02,357.05 L557.81,357.03 L558.59,357.01 L559.38,356.99 L560.16,356.97 L560.95,356.95 L561.74,356.92 L562.52,356.90 L563.31,356.88 L564.09,356.86 L564.88,356.84 L565.66,356.81 L566.45,356.79 L567.24,356.77 L568.02,356.75 L568.81,356.73 L569.59,356.71 L570.38,356.69 L571.16,356.67 L571.95,356.65 L572.73,356.63 L573.52,356.61 L574.31,356.59 L575.09,356.57 L575.88,356.54 L576.66,356.52 L577.45,356.50 L578.23,356.48 L579.02,356.45 L579.81,356.43 L580.59,356.41 L581.38,356.38 L582.16,356.36 L582.95,356.33 L583.73,356.31 L584.52,356.28 L585.30,356.26 L586.09,356.24 L586.88,356.21 L587.66,356.19 L588.45,356.16 L589.23,356.14 L590.02,356.11 L590.80,356.09 L591.59,356.06 L592.38,356.04 L593.16,356.01 L593.95,355.99 L594.73,355.96 L595.52,355.94 L596.30,355.91 L597.09,355.89 L597.87,355.86 L598.66,355.84 L599.45,355.82 L600.23,355.79 L601.02,355.77 L601.80,355.75 L602.59,355.72 L603.37,355.70 L604.16,355.68 L604.95,355.65 L605.73,355.63 L606.52,355.61 L607.30,355.58 L608.09,355.56 L608.87,355.54 L609.66,355.51 L610.44,355.49 L611.23,355.47 L612.02,355.45 L612.80,355.42 L613.59,355.40 L614.37,355.38 L615.16,355.35 L615.94,355.33 L616.73,355.31 L617.52,355.28 L618.30,355.26 L619.09,355.24 L619.87,355.22 L620.66,355.19 L621.44,355.17 L622.23,355.15 L623.01,355.12 L623.80,355.10" fill="none" stroke="#111" stroke-width="1.6" stroke-linejoin="round"/>
<path d="M386.90,322.10 L390.90,322.10 L388.90,318.60Z" fill="#111"/>
<path d="M390.81,323.10 L394.81,323.10 L392.81,319.60Z" fill="#111"/>
<path d="M394.73,324.10 L398.73,324.10 L396.73,320.60Z" fill="#111"/>
<path d="M398.64,325.10 L402.64,325.10 L400.64,321.60Z" fill="#111"/>
<path d="M402.56,326.10 L406.56,326.10 L404.56,322.60Z" fill="#111"/>
<path d="M406.47,327.10 L410.47,327.10 L408.47,323.60Z" fill="#111"/>
<path d="M410.39,328.09 L414.39,328.09 L412.39,324.59Z" fill="#111"/>
<path d="M414.30,329.08 L418.30,329.08 L416.30,325.58Z" fill="#111"/>
<path d="M418.22,330.03 L422.22,330.03 L420.22,326.53Z" fill="#111"/>
<path d="M422.13,330.95 L426.13,330.95 L424.13,327.45Z" fill="#111"/>
<path d="M426.05,331.86 L430.05,331.86 L428.05,328.36Z" fill="#111"/>
<path d="M429.96,332.79 L433.96,332.79 L431.96,329.29Z" fill="#111"/>
<path d="M433.88,333.78 L437.88,333.78 L435.88,330.28Z" fill="#111"/>
<path d="M437.79,334.84 L441.79,334.84 L439.79,331.34Z" fill="#111"/>
<path d="M441.71,336.05 L445.71,336.05 L443.71,332.55Z" fill="#111"/>
<path d="M445.62,337.52 L449.62,337.52 L447.62,334.02Z" fill="#111"/>
<path d="M449.54,339.22 L453.54,339.22 L451.54,335.72Z" fill="#111"/>
<path d="M453.45,341.06 L457.45,341.06 L455.45,337.56Z" fill="#111"/>
<path d="M457.37,342.99 L461.37,342.99 L459.37,339.49Z" fill="#111"/>
<path d="M461.28,345.09 L465.28,345.09 L463.28,341.59Z" fill="#111"/>
<path d="M465.20,347.28 L469.20,347.28 L467.20,343.78Z" fill="#111"/>
<path d="M469.11,349.36 L473.11,349.36 L471.11,345.86Z" fill="#111"/>
<path d="M473.03,351.36 L477.03,351.36 L475.03,347.86Z" fill="#111"/>
<path d="M476.94,353.26 L480.94,353.26 L478.94,349.76Z" fill="#111"/>
<path d="M480.86,354.70 L484.86,354.70 L482.86,351.20Z" fill="#111"/>
<path d="M484.77,355.70 L488.77,355.70 L486.77,352.20Z" fill="#111"/>
<path d="M488.69,356.47 L492.69,356.47 L490.69,352.97Z" fill="#111"/>
<path d="M492.60,357.12 L496.60,357.12 L494.60,353.62Z" fill="#111"/>
<path d="M496.52,357.65 L500.52,357.65 L498.52,354.15Z" fill="#111"/>
<path d="M500.43,358.03 L504.43,358.03 L502.43,354.53Z" fill="#111"/>
<path d="M504.35,358.38 L508.35,358.38 L506.35,354.88Z" fill="#111"/>
<path d="M508.26,358.63 L512.26,358.63 L510.26,355.13Z" fill="#111"/>
<path d="M512.18,358.71 L516.18,358.71 L514.18,355.21Z" fill="#111"/>
<path d="M516.10,358.73 L520.10,358.73 L518.10,355.23Z" fill="#111"/>
<path d="M520.01,358.75 L524.01,358.75 L522.01,355.25Z" fill="#111"/>
<path d="M523.92,358.77 L527.92,358.77 L525.92,355.27Z" fill="#111"/>
<path d="M527.84,358.78 L531.84,358.78 L529.84,355.28Z" fill="#111"/>
<path d="M531.75,358.79 L535.75,358.79 L533.75,355.29Z" fill="#111"/>
<path d="M535.67,358.79 L539.67,358.79 L537.67,355.29Z" fill="#111"/>
<path d="M539.58,358.80 L543.58,358.80 L541.58,355.30Z" fill="#111"/>
<path d="M543.50,358.80 L547.50,358.80 L545.50,355.30Z" fill="#111"/>
<path d="M547.41,358.78 L551.41,358.78 L549.41,355.28Z" fill="#111"/>
<path d="M551.33,358.73 L555.33,358.73 L553.33,355.23Z" fill="#111"/>
<path d="M555.24,358.64 L559.24,358.64 L557.24,355.14Z" fill="#111"/>
<path d="M559.16,358.54 L563.16,358.54 L561.16,355.04Z" fill="#111"/>
<path d="M563.07,358.43 L567.07,358.43 L565.07,354.93Z" fill="#111"/>
<path d="M566.99,358.33 L570.99,358.33 L568.99,354.83Z" fill="#111"/>
<path d="M570.90,358.23 L574.90,358.23 L572.90,354.73Z" fill="#111"/>
<path d="M574.82,358.12 L578.82,358.12 L576.82,354.62Z" fill="#111"/>
<path d="M578.73,358.00 L582.73,358.00 L580.73,354.50Z" fill="#111"/>
<path d="M582.65,357.88 L586.65,357.88 L584.65,354.38Z" fill="#111"/>
<path d="M586.56,357.76 L590.56,357.76 L588.56,354.26Z" fill="#111"/>
<path d="M590.48,357.63 L594.48,357.63 L592.48,354.13Z" fill="#111"/>
<path d="M594.39,357.51 L598.39,357.51 L596.39,354.01Z" fill="#111"/>
<path d="M598.31,357.39 L602.31,357.39 L600.31,353.89Z" fill="#111"/>
<path d="M602.22,357.27 L606.22,357.27 L604.22,353.77Z" fill="#111"/>
<path d="M606.14,357.16 L610.14,357.16 L608.14,353.66Z" fill="#111"/>
<path d="M610.05,357.04 L614.05,357.04 L612.05,353.54Z" fill="#111"/>
<path d="M613.97,356.93 L617.97,356.93 L615.97,353.43Z" fill="#111"/>
<path d="M617.88,356.81 L621.88,356.81 L619.88,353.31Z" fill="#111"/>
<path d="M621.80,356.70 L625.80,356.70 L623.80,353.20Z" fill="#111"/>
<path d="M388.90,336.80 L389.69,336.96 L390.47,337.13 L391.26,337.29 L392.04,337.45 L392.83,337.62 L393.61,337.78 L394.40,337.95 L395.18,338.11 L395.97,338.28 L396.76,338.44 L397.54,338.61 L398.33,338.77 L399.11,338.94 L399.90,339.10 L400.68,339.27 L401.47,339.43 L402.26,339.60 L403.04,339.76 L403.83,339.93 L404.61,340.09 L405.40,340.25 L406.18,340.42 L406.97,340.58 L407.75,340.74 L408.54,340.91 L409.33,341.07 L410.11,341.23 L410.90,341.39 L411.68,341.55 L412.47,341.71 L413.25,341.87 L414.04,342.03 L414.83,342.19 L415.61,342.34 L416.40,342.50 L417.18,342.65 L417.97,342.80 L418.75,342.95 L419.54,343.10 L420.32,343.24 L421.11,343.38 L421.90,343.52 L422.68,343.66 L423.47,343.80 L424.25,343.93 L425.04,344.07 L425.82,344.20 L426.61,344.34 L427.40,344.47 L428.18,344.61 L428.97,344.75 L429.75,344.89 L430.54,345.03 L431.32,345.18 L432.11,345.32 L432.89,345.47 L433.68,345.62 L434.47,345.78 L435.25,345.94 L436.04,346.10 L436.82,346.27 L437.61,346.44 L438.39,346.62 L439.18,346.80 L439.97,346.99 L440.75,347.19 L441.54,347.39 L442.32,347.60 L443.11,347.82 L443.89,348.04 L444.68,348.28 L445.46,348.51 L446.25,348.76 L447.04,349.01 L447.82,349.26 L448.61,349.52 L449.39,349.79 L450.18,350.06 L450.96,350.33 L451.75,350.61 L452.54,350.89 L453.32,351.17 L454.11,351.45 L454.89,351.74 L455.68,352.03 L456.46,352.32 L457.25,352.62 L458.03,352.91 L458.82,353.22 L459.61,353.53 L460.39,353.85 L461.18,354.19 L461.96,354.53 L462.75,354.88 L463.53,355.23 L464.32,355.59 L465.11,355.95 L465.89,356.31 L466.68,356.66 L467.46,357.02 L468.25,357.37 L469.03,357.71 L469.82,358.05 L470.60,358.38 L471.39,358.70 L472.18,359.01 L472.96,359.33 L473.75,359.66 L474.53,359.98 L475.32,360.30 L476.10,360.62 L476.89,360.93 L477.67,361.23 L478.46,361.52 L479.25,361.80 L480.03,362.07 L480.82,362.31 L481.60,362.54 L482.39,362.75 L483.17,362.94 L483.96,363.14 L484.75,363.32 L485.53,363.50 L486.32,363.66 L487.10,363.82 L487.89,363.96 L488.67,364.09 L489.46,364.20 L490.24,364.29 L491.03,364.38 L491.82,364.46 L492.60,364.53 L493.39,364.60 L494.17,364.67 L494.96,364.73 L495.74,364.79 L496.53,364.84 L497.32,364.89 L498.10,364.93 L498.89,364.96 L499.67,364.99 L500.46,365.01 L501.24,365.03 L502.03,365.05 L502.81,365.07 L503.60,365.09 L504.39,365.10 L505.17,365.12 L505.96,365.13 L506.74,365.15 L507.53,365.16 L508.31,365.17 L509.10,365.18 L509.89,365.19 L510.67,365.19 L511.46,365.20 L512.24,365.20 L513.03,365.20 L513.81,365.20 L514.60,365.20 L515.38,365.20 L516.17,365.19 L516.96,365.19 L517.74,365.18 L518.53,365.18 L519.31,365.17 L520.10,365.17 L520.88,365.16 L521.67,365.15 L522.46,365.14 L523.24,365.13 L524.03,365.12 L524.81,365.11 L525.60,365.10 L526.38,365.09 L527.17,365.08 L527.95,365.07 L528.74,365.05 L529.53,365.04 L530.31,365.03 L531.10,365.01 L531.88,365.00 L532.67,364.98 L533.45,364.97 L534.24,364.95 L535.03,364.94 L535.81,364.92 L536.60,364.90 L537.38,364.89 L538.17,364.87 L538.95,364.85 L539.74,364.84 L540.52,364.82 L541.31,364.80 L542.10,364.79 L542.88,364.77 L543.67,364.75 L544.45,364.73 L545.24,364.72 L546.02,364.70 L546.81,364.68 L547.59,364.66 L548.38,364.64 L549.17,364.62 L549.95,364.60 L550.74,364.57 L551.52,364.55 L552.31,364.52 L553.09,364.50 L553.88,364.47 L554.67,364.44 L555.45,364.41 L556.24,364.38 L557.02,364.35 L557.81,364.32 L558.59,364.29 L559.38,364.26 L560.16,364.23 L560.95,364.19 L561.74,364.16 L562.52,364.13 L563.31,364.09 L564.09,364.06 L564.88,364.03 L565.66,363.99 L566.45,363.96 L567.24,363.92 L568.02,363.89 L568.81,363.85 L569.59,363.82 L570.38,363.78 L571.16,363.75 L571.95,363.71 L572.73,363.68 L573.52,363.64 L574.31,363.60 L575.09,363.56 L575.88,363.53 L576.66,363.49 L577.45,363.45 L578.23,363.41 L579.02,363.37 L579.81,363.33 L580.59,363.28 L581.38,363.24 L582.16,363.20 L582.95,363.16 L583.73,363.12 L584.52,363.07 L585.30,363.03 L586.09,362.99 L586.88,362.94 L587.66,362.90 L588.45,362.85 L589.23,362.81 L590.02,362.77 L590.80,362.72 L591.59,362.68 L592.38,362.63 L593.16,362.59 L593.95,362.54 L594.73,362.50 L595.52,362.45 L596.30,362.41 L597.09,362.36 L597.87,362.32 L598.66,362.28 L599.45,362.23 L600.23,362.19 L601.02,362.14 L601.80,362.10 L602.59,362.05 L603.37,362.01 L604.16,361.96 L604.95,361.92 L605.73,361.87 L606.52,361.83 L607.30,361.78 L608.09,361.73 L608.87,361.69 L609.66,361.64 L610.44,361.59 L611.23,361.55 L612.02,361.50 L612.80,361.45 L613.59,361.41 L614.37,361.36 L615.16,361.31 L615.94,361.27 L616.73,361.22 L617.52,361.17 L618.30,361.13 L619.09,361.08 L619.87,361.03 L620.66,360.99 L621.44,360.94 L622.23,360.89 L623.01,360.85 L623.80,360.80" fill="none" stroke="#111" stroke-width="1.3" stroke-linejoin="round"/>
<circle cx="388.90" cy="336.80" r="1.68" fill="#111"/>
<circle cx="392.81" cy="337.62" r="1.68" fill="#111"/>
<circle cx="396.73" cy="338.44" r="1.68" fill="#111"/>
<circle cx="400.64" cy="339.26" r="1.68" fill="#111"/>
<circle cx="404.56" cy="340.08" r="1.68" fill="#111"/>
<circle cx="408.47" cy="340.89" r="1.68" fill="#111"/>
<circle cx="412.39" cy="341.69" r="1.68" fill="#111"/>
<circle cx="416.30" cy="342.48" r="1.68" fill="#111"/>
<circle cx="420.22" cy="343.22" r="1.68" fill="#111"/>
<circle cx="424.13" cy="343.91" r="1.68" fill="#111"/>
<circle cx="428.05" cy="344.59" r="1.68" fill="#111"/>
<circle cx="431.96" cy="345.30" r="1.68" fill="#111"/>
<circle cx="435.88" cy="346.07" r="1.68" fill="#111"/>
<circle cx="439.79" cy="346.95" r="1.68" fill="#111"/>
<circle cx="443.71" cy="347.99" r="1.68" fill="#111"/>
<circle cx="447.62" cy="349.20" r="1.68" fill="#111"/>
<circle cx="451.54" cy="350.53" r="1.68" fill="#111"/>
<circle cx="455.45" cy="351.95" r="1.68" fill="#111"/>
<circle cx="459.37" cy="353.43" r="1.68" fill="#111"/>
<circle cx="463.28" cy="355.12" r="1.68" fill="#111"/>
<circle cx="467.20" cy="356.90" r="1.68" fill="#111"/>
<circle cx="471.11" cy="358.59" r="1.68" fill="#111"/>
<circle cx="475.03" cy="360.18" r="1.68" fill="#111"/>
<circle cx="478.94" cy="361.70" r="1.68" fill="#111"/>
<circle cx="482.86" cy="362.87" r="1.68" fill="#111"/>
<circle cx="486.77" cy="363.75" r="1.68" fill="#111"/>
<circle cx="490.69" cy="364.34" r="1.68" fill="#111"/>
<circle cx="494.60" cy="364.71" r="1.68" fill="#111"/>
<circle cx="498.52" cy="364.95" r="1.68" fill="#111"/>
<circle cx="502.43" cy="365.06" r="1.68" fill="#111"/>
<circle cx="506.35" cy="365.14" r="1.68" fill="#111"/>
<circle cx="510.26" cy="365.19" r="1.68" fill="#111"/>
<circle cx="514.18" cy="365.20" r="1.68" fill="#111"/>
<circle cx="518.10" cy="365.18" r="1.68" fill="#111"/>
<circle cx="522.01" cy="365.15" r="1.68" fill="#111"/>
<circle cx="525.92" cy="365.10" r="1.68" fill="#111"/>
<circle cx="529.84" cy="365.04" r="1.68" fill="#111"/>
<circle cx="533.75" cy="364.96" r="1.68" fill="#111"/>
<circle cx="537.67" cy="364.88" r="1.68" fill="#111"/>
<circle cx="541.58" cy="364.80" r="1.68" fill="#111"/>
<circle cx="545.50" cy="364.71" r="1.68" fill="#111"/>
<circle cx="549.41" cy="364.61" r="1.68" fill="#111"/>
<circle cx="553.33" cy="364.49" r="1.68" fill="#111"/>
<circle cx="557.24" cy="364.34" r="1.68" fill="#111"/>
<circle cx="561.16" cy="364.19" r="1.68" fill="#111"/>
<circle cx="565.07" cy="364.02" r="1.68" fill="#111"/>
<circle cx="568.99" cy="363.84" r="1.68" fill="#111"/>
<circle cx="572.90" cy="363.67" r="1.68" fill="#111"/>
<circle cx="576.82" cy="363.48" r="1.68" fill="#111"/>
<circle cx="580.73" cy="363.28" r="1.68" fill="#111"/>
<circle cx="584.65" cy="363.07" r="1.68" fill="#111"/>
<circle cx="588.56" cy="362.85" r="1.68" fill="#111"/>
<circle cx="592.48" cy="362.63" r="1.68" fill="#111"/>
<circle cx="596.39" cy="362.40" r="1.68" fill="#111"/>
<circle cx="600.31" cy="362.18" r="1.68" fill="#111"/>
<circle cx="604.22" cy="361.96" r="1.68" fill="#111"/>
<circle cx="608.14" cy="361.73" r="1.68" fill="#111"/>
<circle cx="612.05" cy="361.50" r="1.68" fill="#111"/>
<circle cx="615.97" cy="361.27" r="1.68" fill="#111"/>
<circle cx="619.88" cy="361.03" r="1.68" fill="#111"/>
<circle cx="623.80" cy="360.80" r="1.68" fill="#111"/>
<rect x="682" y="106.6" width="1.4" height="2.2" fill="#555"/>
</svg>
</body></html>
